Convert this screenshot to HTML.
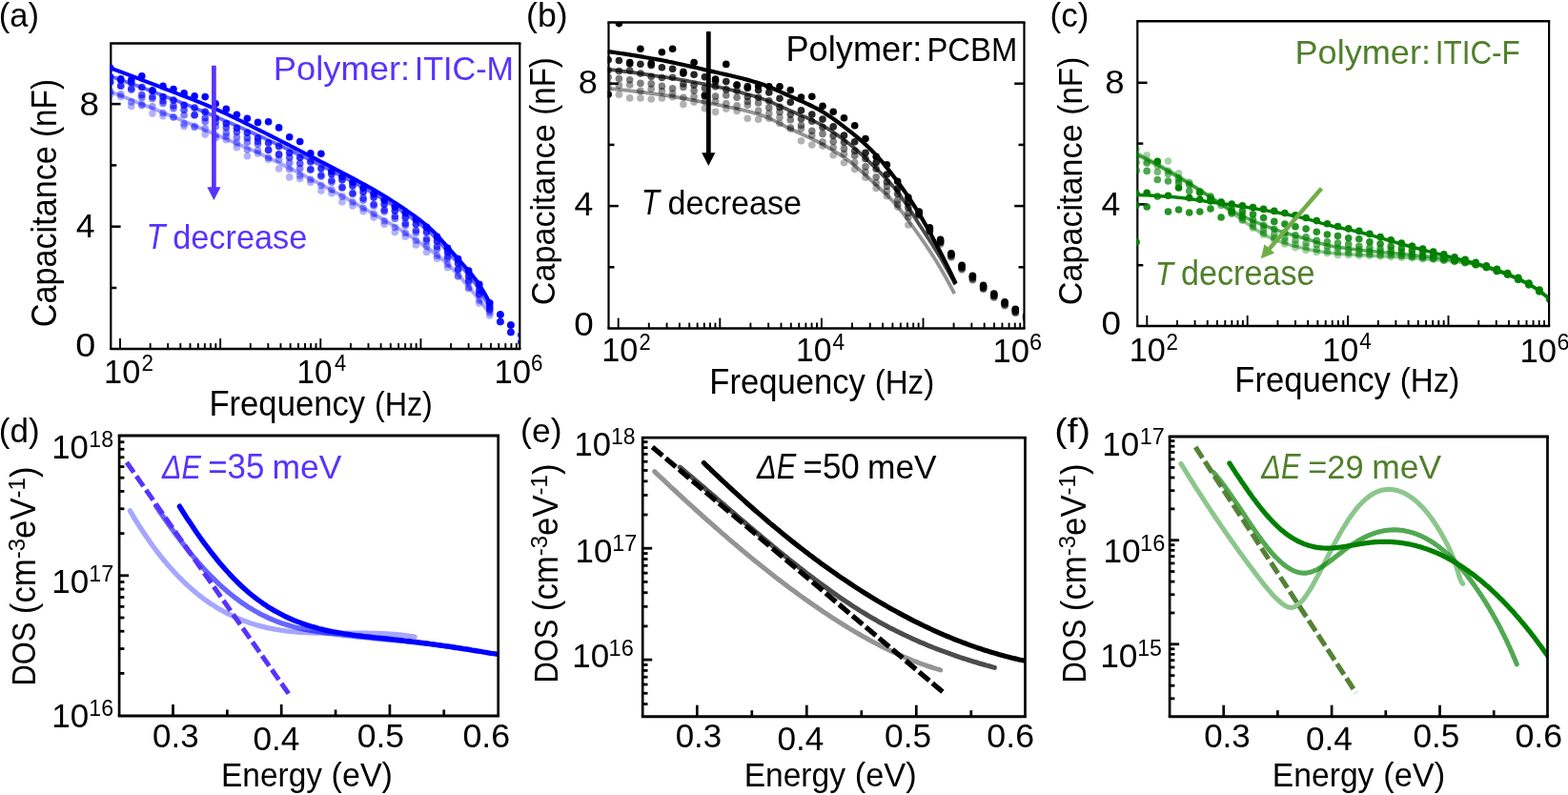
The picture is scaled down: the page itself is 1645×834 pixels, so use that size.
<!DOCTYPE html>
<html><head><meta charset="utf-8"><title>Figure</title>
<style>html,body{margin:0;padding:0;background:#fff;overflow:hidden}svg{display:block}</style></head>
<body><svg width="1645" height="834" viewBox="0 0 1645 834">
<rect width="1645" height="834" fill="#fff"/>
<line x1="126.00" y1="366.10" x2="126.00" y2="355.10" stroke="#000" stroke-width="1.9" />
<line x1="157.65" y1="366.10" x2="157.65" y2="360.10" stroke="#000" stroke-width="1.9" />
<line x1="176.17" y1="366.10" x2="176.17" y2="360.10" stroke="#000" stroke-width="1.9" />
<line x1="189.31" y1="366.10" x2="189.31" y2="360.10" stroke="#000" stroke-width="1.9" />
<line x1="199.50" y1="366.10" x2="199.50" y2="360.10" stroke="#000" stroke-width="1.9" />
<line x1="207.82" y1="366.10" x2="207.82" y2="360.10" stroke="#000" stroke-width="1.9" />
<line x1="214.86" y1="366.10" x2="214.86" y2="360.10" stroke="#000" stroke-width="1.9" />
<line x1="220.96" y1="366.10" x2="220.96" y2="360.10" stroke="#000" stroke-width="1.9" />
<line x1="226.34" y1="366.10" x2="226.34" y2="360.10" stroke="#000" stroke-width="1.9" />
<line x1="231.15" y1="366.10" x2="231.15" y2="355.10" stroke="#000" stroke-width="1.9" />
<line x1="262.80" y1="366.10" x2="262.80" y2="360.10" stroke="#000" stroke-width="1.9" />
<line x1="281.32" y1="366.10" x2="281.32" y2="360.10" stroke="#000" stroke-width="1.9" />
<line x1="294.46" y1="366.10" x2="294.46" y2="360.10" stroke="#000" stroke-width="1.9" />
<line x1="304.65" y1="366.10" x2="304.65" y2="360.10" stroke="#000" stroke-width="1.9" />
<line x1="312.97" y1="366.10" x2="312.97" y2="360.10" stroke="#000" stroke-width="1.9" />
<line x1="320.01" y1="366.10" x2="320.01" y2="360.10" stroke="#000" stroke-width="1.9" />
<line x1="326.11" y1="366.10" x2="326.11" y2="360.10" stroke="#000" stroke-width="1.9" />
<line x1="331.49" y1="366.10" x2="331.49" y2="360.10" stroke="#000" stroke-width="1.9" />
<line x1="336.30" y1="366.10" x2="336.30" y2="355.10" stroke="#000" stroke-width="1.9" />
<line x1="367.95" y1="366.10" x2="367.95" y2="360.10" stroke="#000" stroke-width="1.9" />
<line x1="386.47" y1="366.10" x2="386.47" y2="360.10" stroke="#000" stroke-width="1.9" />
<line x1="399.61" y1="366.10" x2="399.61" y2="360.10" stroke="#000" stroke-width="1.9" />
<line x1="409.80" y1="366.10" x2="409.80" y2="360.10" stroke="#000" stroke-width="1.9" />
<line x1="418.12" y1="366.10" x2="418.12" y2="360.10" stroke="#000" stroke-width="1.9" />
<line x1="425.16" y1="366.10" x2="425.16" y2="360.10" stroke="#000" stroke-width="1.9" />
<line x1="431.26" y1="366.10" x2="431.26" y2="360.10" stroke="#000" stroke-width="1.9" />
<line x1="436.64" y1="366.10" x2="436.64" y2="360.10" stroke="#000" stroke-width="1.9" />
<line x1="441.45" y1="366.10" x2="441.45" y2="355.10" stroke="#000" stroke-width="1.9" />
<line x1="473.10" y1="366.10" x2="473.10" y2="360.10" stroke="#000" stroke-width="1.9" />
<line x1="491.62" y1="366.10" x2="491.62" y2="360.10" stroke="#000" stroke-width="1.9" />
<line x1="504.76" y1="366.10" x2="504.76" y2="360.10" stroke="#000" stroke-width="1.9" />
<line x1="514.95" y1="366.10" x2="514.95" y2="360.10" stroke="#000" stroke-width="1.9" />
<line x1="523.27" y1="366.10" x2="523.27" y2="360.10" stroke="#000" stroke-width="1.9" />
<line x1="530.31" y1="366.10" x2="530.31" y2="360.10" stroke="#000" stroke-width="1.9" />
<line x1="536.41" y1="366.10" x2="536.41" y2="360.10" stroke="#000" stroke-width="1.9" />
<line x1="541.79" y1="366.10" x2="541.79" y2="360.10" stroke="#000" stroke-width="1.9" />
<line x1="116.30" y1="109.10" x2="126.60" y2="109.10" stroke="#000" stroke-width="2.5" />
<line x1="116.30" y1="173.40" x2="122.30" y2="173.40" stroke="#000" stroke-width="2.5" />
<line x1="116.30" y1="237.70" x2="126.60" y2="237.70" stroke="#000" stroke-width="2.5" />
<line x1="116.30" y1="302.00" x2="122.30" y2="302.00" stroke="#000" stroke-width="2.5" />
<line x1="115.20" y1="45.60" x2="546.40" y2="45.60" stroke="#000" stroke-width="2.5" />
<line x1="115.20" y1="366.10" x2="546.40" y2="366.10" stroke="#000" stroke-width="2.5" />
<line x1="116.30" y1="45.60" x2="116.30" y2="366.10" stroke="#000" stroke-width="2.2" />
<line x1="545.30" y1="45.60" x2="545.30" y2="366.10" stroke="#000" stroke-width="2.2" />
<clipPath id="ca"><rect x="115.20" y="45.60" width="429.10" height="319.30"/></clipPath>
<g clip-path="url(#ca)">
<g fill="#0000FF" fill-opacity="0.3"><circle cx="115.7" cy="99.1" r="3.8"/><circle cx="126.7" cy="101.6" r="3.8"/><circle cx="137.8" cy="111.4" r="3.8"/><circle cx="148.8" cy="109.6" r="3.8"/><circle cx="159.9" cy="119.1" r="3.8"/><circle cx="171.0" cy="121.8" r="3.8"/><circle cx="182.0" cy="123.1" r="3.8"/><circle cx="193.1" cy="132.6" r="3.8"/><circle cx="204.1" cy="132.2" r="3.8"/><circle cx="215.2" cy="141.1" r="3.8"/><circle cx="226.2" cy="141.8" r="3.8"/><circle cx="237.3" cy="146.7" r="3.8"/><circle cx="248.4" cy="154.8" r="3.8"/><circle cx="259.4" cy="163.8" r="3.8"/><circle cx="270.5" cy="161.1" r="3.8"/><circle cx="281.6" cy="167.3" r="3.8"/><circle cx="292.6" cy="177.0" r="3.8"/><circle cx="303.7" cy="185.9" r="3.8"/><circle cx="314.7" cy="187.5" r="3.8"/><circle cx="325.8" cy="191.3" r="3.8"/><circle cx="336.9" cy="200.1" r="3.8"/><circle cx="347.9" cy="202.8" r="3.8"/><circle cx="359.0" cy="211.8" r="3.8"/><circle cx="370.0" cy="216.0" r="3.8"/><circle cx="381.1" cy="221.8" r="3.8"/><circle cx="392.1" cy="228.1" r="3.8"/><circle cx="403.2" cy="235.2" r="3.8"/><circle cx="414.3" cy="243.6" r="3.8"/><circle cx="425.3" cy="248.2" r="3.8"/><circle cx="436.4" cy="256.9" r="3.8"/><circle cx="447.5" cy="264.5" r="3.8"/><circle cx="458.5" cy="271.3" r="3.8"/><circle cx="469.6" cy="280.7" r="3.8"/><circle cx="480.6" cy="290.1" r="3.8"/><circle cx="491.7" cy="302.8" r="3.8"/><circle cx="502.8" cy="318.0" r="3.8"/><circle cx="513.8" cy="330.9" r="3.8"/><circle cx="524.9" cy="337.5" r="3.8"/><circle cx="535.9" cy="348.5" r="3.8"/><circle cx="547.0" cy="358.9" r="3.8"/></g>
<g fill="#0000FF" fill-opacity="0.4"><circle cx="115.7" cy="95.7" r="3.8"/><circle cx="126.7" cy="98.9" r="3.8"/><circle cx="137.8" cy="106.9" r="3.8"/><circle cx="148.8" cy="110.6" r="3.8"/><circle cx="159.9" cy="111.8" r="3.8"/><circle cx="171.0" cy="118.6" r="3.8"/><circle cx="182.0" cy="122.8" r="3.8"/><circle cx="193.1" cy="129.9" r="3.8"/><circle cx="204.1" cy="133.5" r="3.8"/><circle cx="215.2" cy="134.9" r="3.8"/><circle cx="226.2" cy="144.6" r="3.8"/><circle cx="237.3" cy="143.0" r="3.8"/><circle cx="248.4" cy="149.9" r="3.8"/><circle cx="259.4" cy="157.1" r="3.8"/><circle cx="270.5" cy="157.8" r="3.8"/><circle cx="281.6" cy="165.4" r="3.8"/><circle cx="292.6" cy="167.5" r="3.8"/><circle cx="303.7" cy="177.5" r="3.8"/><circle cx="314.7" cy="183.9" r="3.8"/><circle cx="325.8" cy="188.2" r="3.8"/><circle cx="336.9" cy="194.5" r="3.8"/><circle cx="347.9" cy="199.1" r="3.8"/><circle cx="359.0" cy="206.1" r="3.8"/><circle cx="370.0" cy="212.0" r="3.8"/><circle cx="381.1" cy="218.3" r="3.8"/><circle cx="392.1" cy="224.3" r="3.8"/><circle cx="403.2" cy="231.7" r="3.8"/><circle cx="414.3" cy="238.6" r="3.8"/><circle cx="425.3" cy="244.4" r="3.8"/><circle cx="436.4" cy="252.2" r="3.8"/><circle cx="447.5" cy="258.4" r="3.8"/><circle cx="458.5" cy="268.1" r="3.8"/><circle cx="469.6" cy="277.3" r="3.8"/><circle cx="480.6" cy="289.5" r="3.8"/><circle cx="491.7" cy="301.8" r="3.8"/><circle cx="502.8" cy="315.1" r="3.8"/><circle cx="513.8" cy="327.9" r="3.8"/><circle cx="524.9" cy="337.5" r="3.8"/><circle cx="535.9" cy="348.5" r="3.8"/><circle cx="547.0" cy="358.9" r="3.8"/></g>
<g fill="#0000FF" fill-opacity="0.5"><circle cx="115.7" cy="86.3" r="3.8"/><circle cx="126.7" cy="90.3" r="3.8"/><circle cx="137.8" cy="94.3" r="3.8"/><circle cx="148.8" cy="102.5" r="3.8"/><circle cx="159.9" cy="103.4" r="3.8"/><circle cx="171.0" cy="108.5" r="3.8"/><circle cx="182.0" cy="113.7" r="3.8"/><circle cx="193.1" cy="120.8" r="3.8"/><circle cx="204.1" cy="121.0" r="3.8"/><circle cx="215.2" cy="127.6" r="3.8"/><circle cx="226.2" cy="132.8" r="3.8"/><circle cx="237.3" cy="139.4" r="3.8"/><circle cx="248.4" cy="144.0" r="3.8"/><circle cx="259.4" cy="149.2" r="3.8"/><circle cx="270.5" cy="151.2" r="3.8"/><circle cx="281.6" cy="157.3" r="3.8"/><circle cx="292.6" cy="162.4" r="3.8"/><circle cx="303.7" cy="170.8" r="3.8"/><circle cx="314.7" cy="176.8" r="3.8"/><circle cx="325.8" cy="178.2" r="3.8"/><circle cx="336.9" cy="185.3" r="3.8"/><circle cx="347.9" cy="191.3" r="3.8"/><circle cx="359.0" cy="197.3" r="3.8"/><circle cx="370.0" cy="203.8" r="3.8"/><circle cx="381.1" cy="210.1" r="3.8"/><circle cx="392.1" cy="215.9" r="3.8"/><circle cx="403.2" cy="221.9" r="3.8"/><circle cx="414.3" cy="229.4" r="3.8"/><circle cx="425.3" cy="236.4" r="3.8"/><circle cx="436.4" cy="244.2" r="3.8"/><circle cx="447.5" cy="252.9" r="3.8"/><circle cx="458.5" cy="261.3" r="3.8"/><circle cx="469.6" cy="271.3" r="3.8"/><circle cx="480.6" cy="283.2" r="3.8"/><circle cx="491.7" cy="295.9" r="3.8"/><circle cx="502.8" cy="309.3" r="3.8"/><circle cx="513.8" cy="325.5" r="3.8"/><circle cx="524.9" cy="337.5" r="3.8"/><circle cx="535.9" cy="348.5" r="3.8"/><circle cx="547.0" cy="358.9" r="3.8"/></g>
<g fill="#0000FF" fill-opacity="0.65"><circle cx="115.7" cy="85.7" r="3.8"/><circle cx="126.7" cy="90.0" r="3.8"/><circle cx="137.8" cy="93.0" r="3.8"/><circle cx="148.8" cy="99.6" r="3.8"/><circle cx="159.9" cy="101.5" r="3.8"/><circle cx="171.0" cy="105.9" r="3.8"/><circle cx="182.0" cy="111.0" r="3.8"/><circle cx="193.1" cy="115.2" r="3.8"/><circle cx="204.1" cy="120.5" r="3.8"/><circle cx="215.2" cy="123.8" r="3.8"/><circle cx="226.2" cy="128.3" r="3.8"/><circle cx="237.3" cy="133.7" r="3.8"/><circle cx="248.4" cy="138.5" r="3.8"/><circle cx="259.4" cy="144.7" r="3.8"/><circle cx="270.5" cy="148.4" r="3.8"/><circle cx="281.6" cy="157.4" r="3.8"/><circle cx="292.6" cy="161.7" r="3.8"/><circle cx="303.7" cy="165.3" r="3.8"/><circle cx="314.7" cy="171.4" r="3.8"/><circle cx="325.8" cy="177.5" r="3.8"/><circle cx="336.9" cy="183.8" r="3.8"/><circle cx="347.9" cy="189.3" r="3.8"/><circle cx="359.0" cy="196.3" r="3.8"/><circle cx="370.0" cy="202.5" r="3.8"/><circle cx="381.1" cy="207.9" r="3.8"/><circle cx="392.1" cy="214.3" r="3.8"/><circle cx="403.2" cy="220.2" r="3.8"/><circle cx="414.3" cy="227.0" r="3.8"/><circle cx="425.3" cy="234.4" r="3.8"/><circle cx="436.4" cy="241.8" r="3.8"/><circle cx="447.5" cy="250.7" r="3.8"/><circle cx="458.5" cy="258.8" r="3.8"/><circle cx="469.6" cy="269.2" r="3.8"/><circle cx="480.6" cy="282.3" r="3.8"/><circle cx="491.7" cy="294.3" r="3.8"/><circle cx="502.8" cy="308.2" r="3.8"/><circle cx="513.8" cy="324.1" r="3.8"/><circle cx="524.9" cy="337.5" r="3.8"/><circle cx="535.9" cy="348.5" r="3.8"/><circle cx="547.0" cy="358.9" r="3.8"/></g>
<g fill="#0000FF" fill-opacity="0.8"><circle cx="115.7" cy="80.5" r="3.8"/><circle cx="126.7" cy="84.1" r="3.8"/><circle cx="137.8" cy="86.8" r="3.8"/><circle cx="148.8" cy="91.5" r="3.8"/><circle cx="159.9" cy="95.1" r="3.8"/><circle cx="171.0" cy="101.6" r="3.8"/><circle cx="182.0" cy="105.1" r="3.8"/><circle cx="193.1" cy="110.3" r="3.8"/><circle cx="204.1" cy="113.1" r="3.8"/><circle cx="215.2" cy="117.2" r="3.8"/><circle cx="226.2" cy="124.0" r="3.8"/><circle cx="237.3" cy="129.6" r="3.8"/><circle cx="248.4" cy="134.2" r="3.8"/><circle cx="259.4" cy="139.3" r="3.8"/><circle cx="270.5" cy="144.7" r="3.8"/><circle cx="281.6" cy="149.9" r="3.8"/><circle cx="292.6" cy="153.6" r="3.8"/><circle cx="303.7" cy="160.2" r="3.8"/><circle cx="314.7" cy="165.3" r="3.8"/><circle cx="325.8" cy="169.8" r="3.8"/><circle cx="336.9" cy="176.7" r="3.8"/><circle cx="347.9" cy="182.8" r="3.8"/><circle cx="359.0" cy="188.7" r="3.8"/><circle cx="370.0" cy="195.1" r="3.8"/><circle cx="381.1" cy="201.4" r="3.8"/><circle cx="392.1" cy="207.1" r="3.8"/><circle cx="403.2" cy="214.2" r="3.8"/><circle cx="414.3" cy="221.1" r="3.8"/><circle cx="425.3" cy="228.3" r="3.8"/><circle cx="436.4" cy="235.3" r="3.8"/><circle cx="447.5" cy="243.4" r="3.8"/><circle cx="458.5" cy="253.1" r="3.8"/><circle cx="469.6" cy="264.5" r="3.8"/><circle cx="480.6" cy="276.6" r="3.8"/><circle cx="491.7" cy="289.7" r="3.8"/><circle cx="502.8" cy="304.4" r="3.8"/><circle cx="513.8" cy="321.5" r="3.8"/><circle cx="524.9" cy="330.0" r="3.8"/><circle cx="535.9" cy="341.0" r="3.8"/><circle cx="547.0" cy="351.4" r="3.8"/></g>
<path d="M115.2 95.9 L118.5 97.2 L121.9 98.5 L125.2 99.8 L128.5 101.1 L131.9 102.4 L135.2 103.7 L138.5 105.0 L141.8 106.4 L145.2 107.7 L148.5 109.0 L151.8 110.4 L155.2 111.7 L158.5 113.0 L161.8 114.4 L165.2 115.7 L168.5 117.1 L171.8 118.5 L175.1 119.8 L178.5 121.2 L181.8 122.6 L185.1 123.9 L188.5 125.3 L191.8 126.7 L195.1 128.1 L198.5 129.5 L201.8 130.8 L205.1 132.2 L208.4 133.6 L211.8 135.0 L215.1 136.4 L218.4 137.8 L221.8 139.2 L225.1 140.6 L228.4 142.0 L231.8 143.5 L235.1 144.9 L238.4 146.3 L241.7 147.7 L245.1 149.1 L248.4 150.5 L251.7 151.9 L255.1 153.4 L258.4 154.8 L261.7 156.3 L265.1 157.8 L268.4 159.3 L271.7 160.8 L275.1 162.4 L278.4 164.0 L281.7 165.5 L285.0 167.1 L288.4 168.8 L291.7 170.4 L295.0 172.0 L298.4 173.7 L301.7 175.3 L305.0 177.0 L308.4 178.7 L311.7 180.4 L315.0 182.1 L318.3 183.8 L321.7 185.6 L325.0 187.3 L328.3 189.0 L331.7 190.8 L335.0 192.6 L338.3 194.4 L341.7 196.2 L345.0 198.0 L348.3 199.8 L351.6 201.6 L355.0 203.4 L358.3 205.3 L361.6 207.1 L365.0 209.0 L368.3 210.8 L371.6 212.7 L375.0 214.6 L378.3 216.5 L381.6 218.4 L385.0 220.3 L388.3 222.2 L391.6 224.1 L394.9 226.1 L398.3 228.0 L401.6 229.9 L404.9 231.9 L408.3 233.9 L411.6 235.9 L414.9 237.9 L418.3 240.0 L421.6 242.0 L424.9 244.2 L428.2 246.3 L431.6 248.5 L434.9 250.8 L438.2 253.0 L441.6 255.3 L444.9 257.6 L448.2 260.0 L451.6 262.4 L454.9 264.8 L458.2 267.4 L461.5 270.0 L464.9 272.8 L468.2 275.7 L471.5 278.8 L474.9 282.1 L478.2 285.7 L481.5 289.3 L484.9 293.1 L488.2 296.9 L491.5 300.8 L494.8 304.7 L498.2 308.8 L501.5 312.9 L504.8 317.2 L508.2 321.6 L511.5 326.0" fill="none" stroke="#0000FF" stroke-width="3.8" stroke-opacity="0.35" stroke-linejoin="round" />
<path d="M115.2 79.8 L118.5 81.0 L121.9 82.1 L125.2 83.3 L128.6 84.5 L131.9 85.7 L135.3 86.9 L138.6 88.1 L141.9 89.3 L145.3 90.5 L148.6 91.7 L152.0 93.0 L155.3 94.2 L158.7 95.5 L162.0 96.8 L165.3 98.0 L168.7 99.3 L172.0 100.6 L175.4 101.9 L178.7 103.2 L182.1 104.5 L185.4 105.8 L188.7 107.1 L192.1 108.5 L195.4 109.8 L198.8 111.1 L202.1 112.5 L205.5 113.9 L208.8 115.2 L212.1 116.6 L215.5 118.0 L218.8 119.3 L222.2 120.7 L225.5 122.1 L228.9 123.5 L232.2 124.9 L235.5 126.4 L238.9 127.8 L242.2 129.2 L245.6 130.7 L248.9 132.2 L252.3 133.7 L255.6 135.2 L258.9 136.7 L262.3 138.2 L265.6 139.7 L269.0 141.2 L272.3 142.7 L275.7 144.3 L279.0 145.8 L282.3 147.4 L285.7 148.9 L289.0 150.5 L292.4 152.1 L295.7 153.6 L299.1 155.2 L302.4 156.8 L305.7 158.4 L309.1 160.0 L312.4 161.6 L315.8 163.2 L319.1 164.8 L322.5 166.4 L325.8 168.0 L329.1 169.7 L332.5 171.3 L335.8 173.0 L339.2 174.7 L342.5 176.4 L345.9 178.1 L349.2 179.8 L352.5 181.5 L355.9 183.3 L359.2 185.0 L362.6 186.8 L365.9 188.5 L369.3 190.3 L372.6 192.1 L375.9 193.9 L379.3 195.7 L382.6 197.6 L386.0 199.5 L389.3 201.4 L392.7 203.4 L396.0 205.3 L399.3 207.3 L402.7 209.3 L406.0 211.4 L409.4 213.5 L412.7 215.6 L416.1 217.7 L419.4 219.9 L422.7 222.2 L426.1 224.5 L429.4 226.8 L432.8 229.2 L436.1 231.6 L439.5 234.1 L442.8 236.7 L446.1 239.4 L449.5 242.3 L452.8 245.3 L456.2 248.6 L459.5 252.1 L462.9 255.8 L466.2 259.7 L469.5 263.5 L472.9 267.3 L476.2 271.1 L479.6 274.7 L482.9 278.4 L486.3 282.2 L489.6 286.0 L492.9 290.1 L496.3 294.3 L499.6 298.8 L503.0 303.7 L506.3 309.3 L509.7 315.5 L513.0 322.0" fill="none" stroke="#0000FF" stroke-width="3.8" stroke-opacity="0.6" stroke-linejoin="round" />
<g fill="#0000FF"><circle cx="115.7" cy="71.3" r="3.8"/><circle cx="126.7" cy="82.9" r="3.8"/><circle cx="137.8" cy="83.8" r="3.8"/><circle cx="148.8" cy="79.8" r="3.8"/><circle cx="159.9" cy="95.1" r="3.8"/><circle cx="171.0" cy="90.4" r="3.8"/><circle cx="182.0" cy="93.6" r="3.8"/><circle cx="193.1" cy="97.9" r="3.8"/><circle cx="204.1" cy="100.8" r="3.8"/><circle cx="215.2" cy="101.6" r="3.8"/><circle cx="226.2" cy="108.8" r="3.8"/><circle cx="237.3" cy="114.4" r="3.8"/><circle cx="248.4" cy="120.2" r="3.8"/><circle cx="259.4" cy="124.2" r="3.8"/><circle cx="270.5" cy="128.4" r="3.8"/><circle cx="281.6" cy="127.7" r="3.8"/><circle cx="292.6" cy="133.9" r="3.8"/><circle cx="303.7" cy="143.7" r="3.8"/><circle cx="314.7" cy="148.5" r="3.8"/><circle cx="325.8" cy="160.9" r="3.8"/><circle cx="336.9" cy="161.3" r="3.8"/><circle cx="347.9" cy="179.8" r="3.8"/><circle cx="359.0" cy="185.6" r="3.8"/><circle cx="370.0" cy="191.4" r="3.8"/><circle cx="381.1" cy="197.3" r="3.8"/><circle cx="392.1" cy="203.6" r="3.8"/><circle cx="403.2" cy="210.1" r="3.8"/><circle cx="414.3" cy="217.1" r="3.8"/><circle cx="425.3" cy="223.5" r="3.8"/><circle cx="436.4" cy="230.3" r="3.8"/><circle cx="447.5" cy="238.3" r="3.8"/><circle cx="458.5" cy="248.3" r="3.8"/><circle cx="469.6" cy="260.2" r="3.8"/><circle cx="480.6" cy="271.6" r="3.8"/><circle cx="491.7" cy="284.1" r="3.8"/><circle cx="502.8" cy="298.4" r="3.8"/><circle cx="513.8" cy="317.7" r="3.8"/><circle cx="524.9" cy="330.0" r="3.8"/><circle cx="535.9" cy="341.0" r="3.8"/><circle cx="547.0" cy="351.4" r="3.8"/></g>
<path d="M115.2 71.1 L118.6 72.4 L121.9 73.6 L125.3 74.9 L128.6 76.1 L132.0 77.4 L135.3 78.7 L138.7 79.9 L142.0 81.2 L145.4 82.5 L148.7 83.8 L152.1 85.1 L155.4 86.4 L158.8 87.6 L162.1 88.9 L165.5 90.2 L168.8 91.5 L172.2 92.8 L175.5 94.1 L178.9 95.4 L182.2 96.7 L185.6 98.0 L188.9 99.3 L192.3 100.6 L195.6 101.8 L199.0 103.1 L202.3 104.5 L205.7 105.8 L209.0 107.1 L212.4 108.5 L215.7 109.9 L219.1 111.3 L222.4 112.7 L225.8 114.1 L229.1 115.6 L232.5 117.2 L235.8 118.7 L239.2 120.3 L242.5 121.9 L245.9 123.5 L249.3 125.2 L252.6 126.8 L256.0 128.5 L259.3 130.1 L262.7 131.8 L266.0 133.5 L269.4 135.2 L272.7 136.9 L276.1 138.5 L279.4 140.2 L282.8 141.9 L286.1 143.6 L289.5 145.3 L292.8 147.0 L296.2 148.7 L299.5 150.4 L302.9 152.1 L306.2 153.9 L309.6 155.6 L312.9 157.3 L316.3 159.0 L319.6 160.8 L323.0 162.5 L326.3 164.2 L329.7 165.9 L333.0 167.6 L336.4 169.4 L339.7 171.1 L343.1 172.8 L346.4 174.6 L349.8 176.3 L353.1 178.1 L356.5 179.8 L359.8 181.6 L363.2 183.3 L366.5 185.0 L369.9 186.8 L373.2 188.6 L376.6 190.4 L379.9 192.2 L383.3 194.0 L386.7 195.9 L390.0 197.8 L393.4 199.8 L396.7 201.7 L400.1 203.7 L403.4 205.8 L406.8 207.8 L410.1 209.9 L413.5 212.1 L416.8 214.2 L420.2 216.5 L423.5 218.7 L426.9 221.0 L430.2 223.4 L433.6 225.7 L436.9 228.2 L440.3 230.6 L443.6 233.2 L447.0 236.0 L450.3 238.8 L453.7 241.9 L457.0 245.2 L460.4 248.8 L463.7 252.6 L467.1 256.4 L470.4 260.2 L473.8 263.9 L477.1 267.6 L480.5 271.4 L483.8 275.2 L487.2 279.0 L490.5 282.8 L493.9 286.7 L497.2 290.9 L500.6 295.3 L503.9 300.2 L507.3 305.7 L510.6 311.7 L514.0 318.0" fill="none" stroke="#0000FF" stroke-width="4.0" stroke-linejoin="round" />
</g>
<line x1="224.40" y1="68.70" x2="224.40" y2="197.20" stroke="#5733FD" stroke-width="4.7" />
<polygon points="224.4,210.0 217.3,196.2 231.5,196.2" fill="#5733FD"/>
<text transform="translate(-1.16,27.80) scale(0.9623,1.0000)" font-size="35.90" fill="#000" font-family="Liberation Sans, sans-serif"><tspan>(a)</tspan></text>
<text transform="translate(83.54,121.00) scale(1.0427,1.0000)" font-size="35.30" fill="#000" font-family="Liberation Sans, sans-serif"><tspan>8</tspan></text>
<text transform="translate(79.70,249.20) scale(1.0097,1.0000)" font-size="35.30" fill="#000" font-family="Liberation Sans, sans-serif"><tspan>4</tspan></text>
<text transform="translate(79.19,373.80) scale(1.0679,1.0000)" font-size="35.30" fill="#000" font-family="Liberation Sans, sans-serif"><tspan>0</tspan></text>
<text transform="translate(109.12,401.70) scale(0.9741,1.0000)" font-size="35.30" fill="#000" font-family="Liberation Sans, sans-serif"><tspan>10</tspan></text>
<text transform="translate(148.38,389.20) scale(0.9663,1.0000)" font-size="23.20" fill="#000" font-family="Liberation Sans, sans-serif"><tspan>2</tspan></text>
<text transform="translate(311.50,401.70) scale(0.9429,1.0000)" font-size="35.30" fill="#000" font-family="Liberation Sans, sans-serif"><tspan>10</tspan></text>
<text transform="translate(351.01,388.90) scale(0.9474,1.0000)" font-size="23.20" fill="#000" font-family="Liberation Sans, sans-serif"><tspan>4</tspan></text>
<text transform="translate(518.40,401.70) scale(0.9826,1.0000)" font-size="35.30" fill="#000" font-family="Liberation Sans, sans-serif"><tspan>10</tspan></text>
<text transform="translate(556.88,389.10) scale(0.9692,1.0000)" font-size="23.20" fill="#000" font-family="Liberation Sans, sans-serif"><tspan>6</tspan></text>
<text transform="translate(219.44,435.90) scale(0.9620,1.0000)" font-size="36.00" fill="#000" font-family="Liberation Sans, sans-serif"><tspan>Frequency</tspan></text>
<text transform="translate(392.88,435.90) scale(0.8971,1.0000)" font-size="36.00" fill="#000" font-family="Liberation Sans, sans-serif"><tspan>(Hz)</tspan></text>
<text transform="translate(59.00,343.31) rotate(-90) scale(0.9505,1.0000)" font-size="36.00" fill="#000" font-family="Liberation Sans, sans-serif"><tspan>Capacitance</tspan></text>
<text transform="translate(59.00,144.08) rotate(-90) scale(0.9259,1.0000)" font-size="36.00" fill="#000" font-family="Liberation Sans, sans-serif"><tspan>(nF)</tspan></text>
<text transform="translate(286.80,84.10) scale(1.0095,1.0000)" font-size="36.00" fill="#5733FD" font-family="Liberation Sans, sans-serif"><tspan>Polymer:</tspan></text>
<text transform="translate(434.74,84.10) scale(0.9491,1.0000)" font-size="36.00" fill="#5733FD" font-family="Liberation Sans, sans-serif"><tspan>ITIC-M</tspan></text>
<text transform="translate(153.47,261.40) scale(0.9052,1.0000)" font-size="36.00" fill="#5733FD" font-family="Liberation Sans, sans-serif"><tspan font-style="italic">T</tspan></text>
<text transform="translate(181.14,261.40) scale(0.9539,1.0000)" font-size="36.00" fill="#5733FD" font-family="Liberation Sans, sans-serif"><tspan>decrease</tspan></text>
<line x1="648.70" y1="344.60" x2="648.70" y2="333.60" stroke="#000" stroke-width="1.9" />
<line x1="680.79" y1="344.60" x2="680.79" y2="338.60" stroke="#000" stroke-width="1.9" />
<line x1="699.56" y1="344.60" x2="699.56" y2="338.60" stroke="#000" stroke-width="1.9" />
<line x1="712.88" y1="344.60" x2="712.88" y2="338.60" stroke="#000" stroke-width="1.9" />
<line x1="723.21" y1="344.60" x2="723.21" y2="338.60" stroke="#000" stroke-width="1.9" />
<line x1="731.65" y1="344.60" x2="731.65" y2="338.60" stroke="#000" stroke-width="1.9" />
<line x1="738.79" y1="344.60" x2="738.79" y2="338.60" stroke="#000" stroke-width="1.9" />
<line x1="744.97" y1="344.60" x2="744.97" y2="338.60" stroke="#000" stroke-width="1.9" />
<line x1="750.42" y1="344.60" x2="750.42" y2="338.60" stroke="#000" stroke-width="1.9" />
<line x1="755.30" y1="344.60" x2="755.30" y2="333.60" stroke="#000" stroke-width="1.9" />
<line x1="787.39" y1="344.60" x2="787.39" y2="338.60" stroke="#000" stroke-width="1.9" />
<line x1="806.16" y1="344.60" x2="806.16" y2="338.60" stroke="#000" stroke-width="1.9" />
<line x1="819.48" y1="344.60" x2="819.48" y2="338.60" stroke="#000" stroke-width="1.9" />
<line x1="829.81" y1="344.60" x2="829.81" y2="338.60" stroke="#000" stroke-width="1.9" />
<line x1="838.25" y1="344.60" x2="838.25" y2="338.60" stroke="#000" stroke-width="1.9" />
<line x1="845.39" y1="344.60" x2="845.39" y2="338.60" stroke="#000" stroke-width="1.9" />
<line x1="851.57" y1="344.60" x2="851.57" y2="338.60" stroke="#000" stroke-width="1.9" />
<line x1="857.02" y1="344.60" x2="857.02" y2="338.60" stroke="#000" stroke-width="1.9" />
<line x1="861.90" y1="344.60" x2="861.90" y2="333.60" stroke="#000" stroke-width="1.9" />
<line x1="893.99" y1="344.60" x2="893.99" y2="338.60" stroke="#000" stroke-width="1.9" />
<line x1="912.76" y1="344.60" x2="912.76" y2="338.60" stroke="#000" stroke-width="1.9" />
<line x1="926.08" y1="344.60" x2="926.08" y2="338.60" stroke="#000" stroke-width="1.9" />
<line x1="936.41" y1="344.60" x2="936.41" y2="338.60" stroke="#000" stroke-width="1.9" />
<line x1="944.85" y1="344.60" x2="944.85" y2="338.60" stroke="#000" stroke-width="1.9" />
<line x1="951.99" y1="344.60" x2="951.99" y2="338.60" stroke="#000" stroke-width="1.9" />
<line x1="958.17" y1="344.60" x2="958.17" y2="338.60" stroke="#000" stroke-width="1.9" />
<line x1="963.62" y1="344.60" x2="963.62" y2="338.60" stroke="#000" stroke-width="1.9" />
<line x1="968.50" y1="344.60" x2="968.50" y2="333.60" stroke="#000" stroke-width="1.9" />
<line x1="1000.59" y1="344.60" x2="1000.59" y2="338.60" stroke="#000" stroke-width="1.9" />
<line x1="1019.36" y1="344.60" x2="1019.36" y2="338.60" stroke="#000" stroke-width="1.9" />
<line x1="1032.68" y1="344.60" x2="1032.68" y2="338.60" stroke="#000" stroke-width="1.9" />
<line x1="1043.01" y1="344.60" x2="1043.01" y2="338.60" stroke="#000" stroke-width="1.9" />
<line x1="1051.45" y1="344.60" x2="1051.45" y2="338.60" stroke="#000" stroke-width="1.9" />
<line x1="1058.59" y1="344.60" x2="1058.59" y2="338.60" stroke="#000" stroke-width="1.9" />
<line x1="1064.77" y1="344.60" x2="1064.77" y2="338.60" stroke="#000" stroke-width="1.9" />
<line x1="1070.22" y1="344.60" x2="1070.22" y2="338.60" stroke="#000" stroke-width="1.9" />
<line x1="638.50" y1="87.70" x2="648.80" y2="87.70" stroke="#000" stroke-width="2.5" />
<line x1="1074.50" y1="87.70" x2="1064.20" y2="87.70" stroke="#000" stroke-width="2.5" />
<line x1="638.50" y1="151.90" x2="644.50" y2="151.90" stroke="#000" stroke-width="2.5" />
<line x1="1074.50" y1="151.90" x2="1068.50" y2="151.90" stroke="#000" stroke-width="2.5" />
<line x1="638.50" y1="216.10" x2="648.80" y2="216.10" stroke="#000" stroke-width="2.5" />
<line x1="1074.50" y1="216.10" x2="1064.20" y2="216.10" stroke="#000" stroke-width="2.5" />
<line x1="638.50" y1="280.30" x2="644.50" y2="280.30" stroke="#000" stroke-width="2.5" />
<line x1="1074.50" y1="280.30" x2="1068.50" y2="280.30" stroke="#000" stroke-width="2.5" />
<line x1="637.40" y1="23.60" x2="1075.60" y2="23.60" stroke="#000" stroke-width="2.5" />
<line x1="637.40" y1="344.60" x2="1075.60" y2="344.60" stroke="#000" stroke-width="2.5" />
<line x1="638.50" y1="23.60" x2="638.50" y2="344.60" stroke="#000" stroke-width="2.2" />
<line x1="1074.50" y1="23.60" x2="1074.50" y2="344.60" stroke="#000" stroke-width="2.2" />
<clipPath id="cb"><rect x="637.40" y="23.60" width="436.10" height="319.80"/></clipPath>
<g clip-path="url(#cb)">
<g fill="#000" fill-opacity="0.3"><circle cx="638.2" cy="92.8" r="3.8"/><circle cx="649.4" cy="99.3" r="3.8"/><circle cx="660.7" cy="102.9" r="3.8"/><circle cx="671.9" cy="102.9" r="3.8"/><circle cx="683.2" cy="104.0" r="3.8"/><circle cx="694.4" cy="102.9" r="3.8"/><circle cx="705.6" cy="101.7" r="3.8"/><circle cx="716.9" cy="109.5" r="3.8"/><circle cx="728.1" cy="107.1" r="3.8"/><circle cx="739.4" cy="113.7" r="3.8"/><circle cx="750.6" cy="117.4" r="3.8"/><circle cx="761.8" cy="114.1" r="3.8"/><circle cx="773.1" cy="116.4" r="3.8"/><circle cx="784.3" cy="124.2" r="3.8"/><circle cx="795.6" cy="125.2" r="3.8"/><circle cx="806.8" cy="124.2" r="3.8"/><circle cx="818.0" cy="129.4" r="3.8"/><circle cx="829.3" cy="135.3" r="3.8"/><circle cx="840.5" cy="147.7" r="3.8"/><circle cx="851.8" cy="152.0" r="3.8"/><circle cx="863.0" cy="153.1" r="3.8"/><circle cx="874.2" cy="162.8" r="3.8"/><circle cx="885.5" cy="170.7" r="3.8"/><circle cx="896.7" cy="177.6" r="3.8"/><circle cx="908.0" cy="186.2" r="3.8"/><circle cx="919.2" cy="197.4" r="3.8"/><circle cx="930.4" cy="205.8" r="3.8"/><circle cx="941.7" cy="217.1" r="3.8"/><circle cx="952.9" cy="236.0" r="3.8"/><circle cx="964.2" cy="226.5" r="3.8"/><circle cx="975.4" cy="243.3" r="3.8"/><circle cx="986.6" cy="256.2" r="3.8"/><circle cx="997.9" cy="270.1" r="3.8"/><circle cx="1009.1" cy="283.1" r="3.8"/><circle cx="1020.4" cy="293.9" r="3.8"/><circle cx="1031.6" cy="303.5" r="3.8"/><circle cx="1042.8" cy="312.2" r="3.8"/><circle cx="1054.1" cy="320.9" r="3.8"/><circle cx="1065.3" cy="328.4" r="3.8"/><circle cx="1076.6" cy="335.5" r="3.8"/></g>
<g fill="#000" fill-opacity="0.4"><circle cx="638.2" cy="87.5" r="3.8"/><circle cx="649.4" cy="89.6" r="3.8"/><circle cx="660.7" cy="89.0" r="3.8"/><circle cx="671.9" cy="95.4" r="3.8"/><circle cx="683.2" cy="93.3" r="3.8"/><circle cx="694.4" cy="95.6" r="3.8"/><circle cx="705.6" cy="98.2" r="3.8"/><circle cx="716.9" cy="102.2" r="3.8"/><circle cx="728.1" cy="101.2" r="3.8"/><circle cx="739.4" cy="106.6" r="3.8"/><circle cx="750.6" cy="106.2" r="3.8"/><circle cx="761.8" cy="108.6" r="3.8"/><circle cx="773.1" cy="110.9" r="3.8"/><circle cx="784.3" cy="110.3" r="3.8"/><circle cx="795.6" cy="116.1" r="3.8"/><circle cx="806.8" cy="118.7" r="3.8"/><circle cx="818.0" cy="123.0" r="3.8"/><circle cx="829.3" cy="133.8" r="3.8"/><circle cx="840.5" cy="134.9" r="3.8"/><circle cx="851.8" cy="142.0" r="3.8"/><circle cx="863.0" cy="148.7" r="3.8"/><circle cx="874.2" cy="154.8" r="3.8"/><circle cx="885.5" cy="161.4" r="3.8"/><circle cx="896.7" cy="170.5" r="3.8"/><circle cx="908.0" cy="180.6" r="3.8"/><circle cx="919.2" cy="191.8" r="3.8"/><circle cx="930.4" cy="200.5" r="3.8"/><circle cx="941.7" cy="214.4" r="3.8"/><circle cx="952.9" cy="228.0" r="3.8"/><circle cx="964.2" cy="225.4" r="3.8"/><circle cx="975.4" cy="242.8" r="3.8"/><circle cx="986.6" cy="255.0" r="3.8"/><circle cx="997.9" cy="269.5" r="3.8"/><circle cx="1009.1" cy="282.2" r="3.8"/><circle cx="1020.4" cy="293.2" r="3.8"/><circle cx="1031.6" cy="302.9" r="3.8"/><circle cx="1042.8" cy="311.7" r="3.8"/><circle cx="1054.1" cy="320.3" r="3.8"/><circle cx="1065.3" cy="327.9" r="3.8"/><circle cx="1076.6" cy="334.8" r="3.8"/></g>
<g fill="#000" fill-opacity="0.5"><circle cx="638.2" cy="81.0" r="3.8"/><circle cx="649.4" cy="82.6" r="3.8"/><circle cx="660.7" cy="83.7" r="3.8"/><circle cx="671.9" cy="87.4" r="3.8"/><circle cx="683.2" cy="87.9" r="3.8"/><circle cx="694.4" cy="90.4" r="3.8"/><circle cx="705.6" cy="92.7" r="3.8"/><circle cx="716.9" cy="91.4" r="3.8"/><circle cx="728.1" cy="95.1" r="3.8"/><circle cx="739.4" cy="99.2" r="3.8"/><circle cx="750.6" cy="101.0" r="3.8"/><circle cx="761.8" cy="99.9" r="3.8"/><circle cx="773.1" cy="102.3" r="3.8"/><circle cx="784.3" cy="106.5" r="3.8"/><circle cx="795.6" cy="107.9" r="3.8"/><circle cx="806.8" cy="112.9" r="3.8"/><circle cx="818.0" cy="117.4" r="3.8"/><circle cx="829.3" cy="125.8" r="3.8"/><circle cx="840.5" cy="131.5" r="3.8"/><circle cx="851.8" cy="137.2" r="3.8"/><circle cx="863.0" cy="140.4" r="3.8"/><circle cx="874.2" cy="148.5" r="3.8"/><circle cx="885.5" cy="155.9" r="3.8"/><circle cx="896.7" cy="163.2" r="3.8"/><circle cx="908.0" cy="174.9" r="3.8"/><circle cx="919.2" cy="185.8" r="3.8"/><circle cx="930.4" cy="195.4" r="3.8"/><circle cx="941.7" cy="210.0" r="3.8"/><circle cx="952.9" cy="223.6" r="3.8"/><circle cx="964.2" cy="224.8" r="3.8"/><circle cx="975.4" cy="242.2" r="3.8"/><circle cx="986.6" cy="254.5" r="3.8"/><circle cx="997.9" cy="268.3" r="3.8"/><circle cx="1009.1" cy="281.0" r="3.8"/><circle cx="1020.4" cy="292.0" r="3.8"/><circle cx="1031.6" cy="302.0" r="3.8"/><circle cx="1042.8" cy="310.5" r="3.8"/><circle cx="1054.1" cy="319.3" r="3.8"/><circle cx="1065.3" cy="327.3" r="3.8"/><circle cx="1076.6" cy="333.3" r="3.8"/></g>
<g fill="#000" fill-opacity="0.65"><circle cx="638.2" cy="73.7" r="3.8"/><circle cx="649.4" cy="74.5" r="3.8"/><circle cx="660.7" cy="74.0" r="3.8"/><circle cx="671.9" cy="77.1" r="3.8"/><circle cx="683.2" cy="80.2" r="3.8"/><circle cx="694.4" cy="81.5" r="3.8"/><circle cx="705.6" cy="81.3" r="3.8"/><circle cx="716.9" cy="87.9" r="3.8"/><circle cx="728.1" cy="89.2" r="3.8"/><circle cx="739.4" cy="92.5" r="3.8"/><circle cx="750.6" cy="90.7" r="3.8"/><circle cx="761.8" cy="93.9" r="3.8"/><circle cx="773.1" cy="95.3" r="3.8"/><circle cx="784.3" cy="101.6" r="3.8"/><circle cx="795.6" cy="102.3" r="3.8"/><circle cx="806.8" cy="105.8" r="3.8"/><circle cx="818.0" cy="112.4" r="3.8"/><circle cx="829.3" cy="120.1" r="3.8"/><circle cx="840.5" cy="124.8" r="3.8"/><circle cx="851.8" cy="127.3" r="3.8"/><circle cx="863.0" cy="133.5" r="3.8"/><circle cx="874.2" cy="142.3" r="3.8"/><circle cx="885.5" cy="149.3" r="3.8"/><circle cx="896.7" cy="158.2" r="3.8"/><circle cx="908.0" cy="166.6" r="3.8"/><circle cx="919.2" cy="177.3" r="3.8"/><circle cx="930.4" cy="190.7" r="3.8"/><circle cx="941.7" cy="203.5" r="3.8"/><circle cx="952.9" cy="217.8" r="3.8"/><circle cx="964.2" cy="224.4" r="3.8"/><circle cx="975.4" cy="241.0" r="3.8"/><circle cx="986.6" cy="253.7" r="3.8"/><circle cx="997.9" cy="267.4" r="3.8"/><circle cx="1009.1" cy="280.7" r="3.8"/><circle cx="1020.4" cy="290.8" r="3.8"/><circle cx="1031.6" cy="301.8" r="3.8"/><circle cx="1042.8" cy="310.0" r="3.8"/><circle cx="1054.1" cy="318.5" r="3.8"/><circle cx="1065.3" cy="326.4" r="3.8"/><circle cx="1076.6" cy="333.4" r="3.8"/></g>
<g fill="#000" fill-opacity="0.85"><circle cx="638.2" cy="62.7" r="3.8"/><circle cx="649.4" cy="63.5" r="3.8"/><circle cx="660.7" cy="67.0" r="3.8"/><circle cx="671.9" cy="67.3" r="3.8"/><circle cx="683.2" cy="68.5" r="3.8"/><circle cx="694.4" cy="70.7" r="3.8"/><circle cx="705.6" cy="72.3" r="3.8"/><circle cx="716.9" cy="75.3" r="3.8"/><circle cx="728.1" cy="78.3" r="3.8"/><circle cx="739.4" cy="80.7" r="3.8"/><circle cx="750.6" cy="85.4" r="3.8"/><circle cx="761.8" cy="85.6" r="3.8"/><circle cx="773.1" cy="89.2" r="3.8"/><circle cx="784.3" cy="90.5" r="3.8"/><circle cx="795.6" cy="94.5" r="3.8"/><circle cx="806.8" cy="97.0" r="3.8"/><circle cx="818.0" cy="103.2" r="3.8"/><circle cx="829.3" cy="107.3" r="3.8"/><circle cx="840.5" cy="115.8" r="3.8"/><circle cx="851.8" cy="120.1" r="3.8"/><circle cx="863.0" cy="125.1" r="3.8"/><circle cx="874.2" cy="132.9" r="3.8"/><circle cx="885.5" cy="142.1" r="3.8"/><circle cx="896.7" cy="148.8" r="3.8"/><circle cx="908.0" cy="160.3" r="3.8"/><circle cx="919.2" cy="170.4" r="3.8"/><circle cx="930.4" cy="183.1" r="3.8"/><circle cx="941.7" cy="197.9" r="3.8"/><circle cx="952.9" cy="212.4" r="3.8"/><circle cx="964.2" cy="223.0" r="3.8"/><circle cx="975.4" cy="240.1" r="3.8"/><circle cx="986.6" cy="252.9" r="3.8"/><circle cx="997.9" cy="266.6" r="3.8"/><circle cx="1009.1" cy="279.6" r="3.8"/><circle cx="1020.4" cy="290.4" r="3.8"/><circle cx="1031.6" cy="300.5" r="3.8"/><circle cx="1042.8" cy="308.9" r="3.8"/><circle cx="1054.1" cy="317.5" r="3.8"/><circle cx="1065.3" cy="324.9" r="3.8"/><circle cx="1076.6" cy="331.6" r="3.8"/></g>
<path d="M637.4 92.8 L640.5 93.1 L643.5 93.4 L646.6 93.7 L649.6 94.0 L652.7 94.3 L655.7 94.6 L658.8 94.9 L661.9 95.3 L664.9 95.6 L668.0 96.0 L671.0 96.4 L674.1 96.8 L677.2 97.2 L680.2 97.6 L683.3 98.0 L686.3 98.4 L689.4 98.8 L692.4 99.2 L695.5 99.7 L698.6 100.1 L701.6 100.6 L704.7 101.1 L707.7 101.6 L710.8 102.1 L713.8 102.6 L716.9 103.2 L720.0 103.7 L723.0 104.3 L726.1 104.8 L729.1 105.4 L732.2 106.0 L735.3 106.6 L738.3 107.1 L741.4 107.7 L744.4 108.3 L747.5 108.9 L750.5 109.5 L753.6 110.1 L756.7 110.7 L759.7 111.3 L762.8 111.9 L765.8 112.5 L768.9 113.1 L772.0 113.8 L775.0 114.5 L778.1 115.2 L781.1 115.9 L784.2 116.6 L787.2 117.4 L790.3 118.3 L793.4 119.1 L796.4 120.1 L799.5 121.1 L802.5 122.2 L805.6 123.5 L808.6 124.9 L811.7 126.4 L814.8 127.9 L817.8 129.5 L820.9 131.0 L823.9 132.6 L827.0 134.2 L830.1 135.6 L833.1 137.0 L836.2 138.4 L839.2 139.8 L842.3 141.2 L845.3 142.6 L848.4 144.0 L851.5 145.5 L854.5 147.0 L857.6 148.5 L860.6 150.1 L863.7 151.8 L866.7 153.5 L869.8 155.3 L872.9 157.1 L875.9 159.0 L879.0 160.9 L882.0 162.9 L885.1 164.9 L888.2 167.1 L891.2 169.3 L894.3 171.7 L897.3 174.2 L900.4 176.8 L903.4 179.5 L906.5 182.3 L909.6 185.2 L912.6 188.0 L915.7 190.8 L918.7 193.6 L921.8 196.5 L924.9 199.3 L927.9 202.2 L931.0 205.2 L934.0 208.3 L937.1 211.5 L940.1 215.0 L943.2 218.6 L946.3 222.4 L949.3 226.4 L952.4 230.5 L955.4 234.7 L958.5 239.0 L961.5 243.2 L964.6 247.5 L967.7 251.9 L970.7 256.3 L973.8 260.8 L976.8 265.4 L979.9 270.2 L983.0 275.1 L986.0 280.2 L989.1 285.5 L992.1 290.9 L995.2 296.5 L998.2 302.2 L1001.3 308.0" fill="none" stroke="#000" stroke-width="3.8" stroke-opacity="0.42" stroke-linejoin="round" />
<path d="M637.4 72.7 L640.5 73.1 L643.5 73.4 L646.6 73.8 L649.7 74.2 L652.7 74.6 L655.8 75.0 L658.9 75.4 L661.9 75.8 L665.0 76.2 L668.1 76.7 L671.1 77.1 L674.2 77.5 L677.3 78.0 L680.3 78.4 L683.4 78.9 L686.4 79.3 L689.5 79.8 L692.6 80.3 L695.6 80.7 L698.7 81.2 L701.8 81.7 L704.8 82.2 L707.9 82.7 L711.0 83.2 L714.0 83.7 L717.1 84.2 L720.2 84.7 L723.2 85.3 L726.3 85.8 L729.4 86.4 L732.4 87.0 L735.5 87.6 L738.6 88.2 L741.6 88.8 L744.7 89.4 L747.8 90.1 L750.8 90.7 L753.9 91.4 L757.0 92.0 L760.0 92.7 L763.1 93.4 L766.2 94.2 L769.2 94.9 L772.3 95.7 L775.3 96.5 L778.4 97.3 L781.5 98.1 L784.5 99.0 L787.6 99.9 L790.7 100.8 L793.7 101.7 L796.8 102.7 L799.9 103.7 L802.9 104.8 L806.0 106.0 L809.1 107.3 L812.1 108.6 L815.2 110.0 L818.3 111.3 L821.3 112.7 L824.4 114.1 L827.5 115.5 L830.5 116.8 L833.6 118.1 L836.7 119.4 L839.7 120.7 L842.8 122.0 L845.9 123.3 L848.9 124.7 L852.0 126.1 L855.1 127.6 L858.1 129.1 L861.2 130.7 L864.3 132.5 L867.3 134.3 L870.4 136.2 L873.4 138.2 L876.5 140.3 L879.6 142.4 L882.6 144.6 L885.7 146.9 L888.8 149.2 L891.8 151.6 L894.9 154.1 L898.0 156.7 L901.0 159.5 L904.1 162.3 L907.2 165.2 L910.2 168.1 L913.3 171.1 L916.4 174.0 L919.4 177.0 L922.5 180.0 L925.6 183.1 L928.6 186.3 L931.7 189.6 L934.8 193.0 L937.8 196.6 L940.9 200.5 L944.0 204.6 L947.0 208.9 L950.1 213.2 L953.2 217.8 L956.2 222.5 L959.3 227.3 L962.3 232.2 L965.4 237.1 L968.5 241.8 L971.5 246.5 L974.6 251.2 L977.7 255.9 L980.7 260.7 L983.8 265.7 L986.9 270.8 L989.9 276.1 L993.0 281.5 L996.1 287.1 L999.1 292.7 L1002.2 298.5" fill="none" stroke="#000" stroke-width="3.8" stroke-opacity="0.7" stroke-linejoin="round" />
<g fill="#000"><circle cx="638.2" cy="99.0" r="3.8"/><circle cx="649.4" cy="24.6" r="3.8"/><circle cx="660.7" cy="65.6" r="3.8"/><circle cx="671.9" cy="51.2" r="3.8"/><circle cx="683.2" cy="66.4" r="3.8"/><circle cx="694.4" cy="54.7" r="3.8"/><circle cx="705.6" cy="51.2" r="3.8"/><circle cx="716.9" cy="77.0" r="3.8"/><circle cx="728.1" cy="65.6" r="3.8"/><circle cx="739.4" cy="100.5" r="3.8"/><circle cx="750.6" cy="83.1" r="3.8"/><circle cx="761.8" cy="67.4" r="3.8"/><circle cx="773.1" cy="89.1" r="3.8"/><circle cx="784.3" cy="92.2" r="3.8"/><circle cx="795.6" cy="89.9" r="3.8"/><circle cx="806.8" cy="90.7" r="3.8"/><circle cx="818.0" cy="90.7" r="3.8"/><circle cx="829.3" cy="94.5" r="3.8"/><circle cx="840.5" cy="102.1" r="3.8"/><circle cx="851.8" cy="101.3" r="3.8"/><circle cx="863.0" cy="111.2" r="3.8"/><circle cx="874.2" cy="117.3" r="3.8"/><circle cx="885.5" cy="123.7" r="3.8"/><circle cx="896.7" cy="131.8" r="3.8"/><circle cx="908.0" cy="145.5" r="3.8"/><circle cx="919.2" cy="164.2" r="3.8"/><circle cx="930.4" cy="172.8" r="3.8"/><circle cx="941.7" cy="190.3" r="3.8"/><circle cx="952.9" cy="207.0" r="3.8"/><circle cx="964.2" cy="222.0" r="3.8"/><circle cx="975.4" cy="238.9" r="3.8"/><circle cx="986.6" cy="251.4" r="3.8"/><circle cx="997.9" cy="265.8" r="3.8"/><circle cx="1009.1" cy="278.3" r="3.8"/><circle cx="1020.4" cy="289.2" r="3.8"/><circle cx="1031.6" cy="299.4" r="3.8"/><circle cx="1042.8" cy="308.0" r="3.8"/><circle cx="1054.1" cy="316.7" r="3.8"/><circle cx="1065.3" cy="324.3" r="3.8"/><circle cx="1076.6" cy="331.0" r="3.8"/></g>
<path d="M637.4 54.0 L640.5 54.4 L643.5 54.8 L646.6 55.3 L649.7 55.7 L652.7 56.2 L655.8 56.6 L658.9 57.1 L662.0 57.6 L665.0 58.1 L668.1 58.6 L671.2 59.1 L674.2 59.6 L677.3 60.2 L680.4 60.7 L683.4 61.3 L686.5 61.8 L689.6 62.4 L692.7 62.9 L695.7 63.5 L698.8 64.1 L701.9 64.8 L704.9 65.4 L708.0 66.0 L711.1 66.7 L714.1 67.4 L717.2 68.0 L720.3 68.7 L723.4 69.4 L726.4 70.1 L729.5 70.8 L732.6 71.5 L735.6 72.2 L738.7 73.0 L741.8 73.7 L744.8 74.4 L747.9 75.1 L751.0 75.8 L754.1 76.5 L757.1 77.2 L760.2 77.9 L763.3 78.6 L766.3 79.3 L769.4 80.0 L772.5 80.8 L775.5 81.5 L778.6 82.3 L781.7 83.1 L784.7 83.9 L787.8 84.8 L790.9 85.7 L794.0 86.6 L797.0 87.5 L800.1 88.6 L803.2 89.7 L806.2 90.9 L809.3 92.1 L812.4 93.5 L815.4 94.8 L818.5 96.2 L821.6 97.6 L824.7 99.0 L827.7 100.4 L830.8 101.8 L833.9 103.1 L836.9 104.5 L840.0 105.8 L843.1 107.2 L846.1 108.6 L849.2 110.0 L852.3 111.5 L855.4 113.1 L858.4 114.7 L861.5 116.4 L864.6 118.3 L867.6 120.2 L870.7 122.2 L873.8 124.3 L876.8 126.5 L879.9 128.8 L883.0 131.1 L886.0 133.4 L889.1 135.8 L892.2 138.2 L895.3 140.6 L898.3 143.1 L901.4 145.7 L904.5 148.4 L907.5 151.1 L910.6 154.0 L913.7 157.0 L916.7 160.1 L919.8 163.4 L922.9 166.8 L926.0 170.4 L929.0 174.2 L932.1 178.0 L935.2 181.9 L938.2 185.9 L941.3 190.0 L944.4 194.2 L947.4 198.5 L950.5 202.9 L953.6 207.4 L956.7 212.1 L959.7 216.9 L962.8 221.8 L965.9 226.8 L968.9 232.1 L972.0 237.5 L975.1 243.0 L978.1 248.7 L981.2 254.4 L984.3 260.3 L987.4 266.2 L990.4 272.3 L993.5 278.4 L996.6 284.7 L999.6 291.0 L1002.7 297.5" fill="none" stroke="#000" stroke-width="4.2" stroke-linejoin="round" />
</g>
<line x1="743.30" y1="32.90" x2="743.30" y2="161.20" stroke="#000" stroke-width="4.8" />
<polygon points="743.3,174.0 736.2,160.2 750.4,160.2" fill="#000"/>
<text transform="translate(552.07,28.20) scale(0.9927,1.0000)" font-size="35.90" fill="#000" font-family="Liberation Sans, sans-serif"><tspan>(b)</tspan></text>
<text transform="translate(606.76,98.20) scale(1.0247,1.0000)" font-size="35.30" fill="#000" font-family="Liberation Sans, sans-serif"><tspan>8</tspan></text>
<text transform="translate(602.50,226.30) scale(1.0097,1.0000)" font-size="35.30" fill="#000" font-family="Liberation Sans, sans-serif"><tspan>4</tspan></text>
<text transform="translate(602.23,351.50) scale(1.0442,1.0000)" font-size="35.30" fill="#000" font-family="Liberation Sans, sans-serif"><tspan>0</tspan></text>
<text transform="translate(631.34,379.00) scale(0.9684,1.0000)" font-size="35.30" fill="#000" font-family="Liberation Sans, sans-serif"><tspan>10</tspan></text>
<text transform="translate(670.40,366.80) scale(0.9473,1.0000)" font-size="23.20" fill="#000" font-family="Liberation Sans, sans-serif"><tspan>2</tspan></text>
<text transform="translate(835.07,378.70) scale(0.9571,1.0000)" font-size="35.30" fill="#000" font-family="Liberation Sans, sans-serif"><tspan>10</tspan></text>
<text transform="translate(873.49,367.00) scale(0.9816,1.0000)" font-size="23.20" fill="#000" font-family="Liberation Sans, sans-serif"><tspan>4</tspan></text>
<text transform="translate(1041.50,379.60) scale(0.9826,1.0000)" font-size="35.30" fill="#000" font-family="Liberation Sans, sans-serif"><tspan>10</tspan></text>
<text transform="translate(1080.02,366.70) scale(1.0158,1.0000)" font-size="23.20" fill="#000" font-family="Liberation Sans, sans-serif"><tspan>6</tspan></text>
<text transform="translate(744.24,412.90) scale(0.9620,1.0000)" font-size="36.00" fill="#000" font-family="Liberation Sans, sans-serif"><tspan>Frequency</tspan></text>
<text transform="translate(917.63,412.90) scale(0.9207,1.0000)" font-size="36.00" fill="#000" font-family="Liberation Sans, sans-serif"><tspan>(Hz)</tspan></text>
<text transform="translate(582.20,320.21) rotate(-90) scale(0.9495,1.0000)" font-size="36.00" fill="#000" font-family="Liberation Sans, sans-serif"><tspan>Capacitance</tspan></text>
<text transform="translate(582.20,120.66) rotate(-90) scale(0.9162,1.0000)" font-size="36.00" fill="#000" font-family="Liberation Sans, sans-serif"><tspan>(nF)</tspan></text>
<text transform="translate(824.41,63.80) scale(1.0066,1.0000)" font-size="36.00" fill="#000" font-family="Liberation Sans, sans-serif"><tspan>Polymer:</tspan></text>
<text transform="translate(972.39,63.80) scale(0.9122,1.0000)" font-size="36.00" fill="#000" font-family="Liberation Sans, sans-serif"><tspan>PCBM</tspan></text>
<text transform="translate(672.78,224.80) scale(0.8716,1.0000)" font-size="36.00" fill="#000" font-family="Liberation Sans, sans-serif"><tspan font-style="italic">T</tspan></text>
<text transform="translate(700.55,224.80) scale(0.9497,1.0000)" font-size="36.00" fill="#000" font-family="Liberation Sans, sans-serif"><tspan>decrease</tspan></text>
<line x1="1203.30" y1="342.00" x2="1203.30" y2="331.00" stroke="#000" stroke-width="1.9" />
<line x1="1235.03" y1="342.00" x2="1235.03" y2="336.00" stroke="#000" stroke-width="1.9" />
<line x1="1253.59" y1="342.00" x2="1253.59" y2="336.00" stroke="#000" stroke-width="1.9" />
<line x1="1266.76" y1="342.00" x2="1266.76" y2="336.00" stroke="#000" stroke-width="1.9" />
<line x1="1276.97" y1="342.00" x2="1276.97" y2="336.00" stroke="#000" stroke-width="1.9" />
<line x1="1285.32" y1="342.00" x2="1285.32" y2="336.00" stroke="#000" stroke-width="1.9" />
<line x1="1292.37" y1="342.00" x2="1292.37" y2="336.00" stroke="#000" stroke-width="1.9" />
<line x1="1298.49" y1="342.00" x2="1298.49" y2="336.00" stroke="#000" stroke-width="1.9" />
<line x1="1303.88" y1="342.00" x2="1303.88" y2="336.00" stroke="#000" stroke-width="1.9" />
<line x1="1308.70" y1="342.00" x2="1308.70" y2="331.00" stroke="#000" stroke-width="1.9" />
<line x1="1340.43" y1="342.00" x2="1340.43" y2="336.00" stroke="#000" stroke-width="1.9" />
<line x1="1358.99" y1="342.00" x2="1358.99" y2="336.00" stroke="#000" stroke-width="1.9" />
<line x1="1372.16" y1="342.00" x2="1372.16" y2="336.00" stroke="#000" stroke-width="1.9" />
<line x1="1382.37" y1="342.00" x2="1382.37" y2="336.00" stroke="#000" stroke-width="1.9" />
<line x1="1390.72" y1="342.00" x2="1390.72" y2="336.00" stroke="#000" stroke-width="1.9" />
<line x1="1397.77" y1="342.00" x2="1397.77" y2="336.00" stroke="#000" stroke-width="1.9" />
<line x1="1403.89" y1="342.00" x2="1403.89" y2="336.00" stroke="#000" stroke-width="1.9" />
<line x1="1409.28" y1="342.00" x2="1409.28" y2="336.00" stroke="#000" stroke-width="1.9" />
<line x1="1414.10" y1="342.00" x2="1414.10" y2="331.00" stroke="#000" stroke-width="1.9" />
<line x1="1445.83" y1="342.00" x2="1445.83" y2="336.00" stroke="#000" stroke-width="1.9" />
<line x1="1464.39" y1="342.00" x2="1464.39" y2="336.00" stroke="#000" stroke-width="1.9" />
<line x1="1477.56" y1="342.00" x2="1477.56" y2="336.00" stroke="#000" stroke-width="1.9" />
<line x1="1487.77" y1="342.00" x2="1487.77" y2="336.00" stroke="#000" stroke-width="1.9" />
<line x1="1496.12" y1="342.00" x2="1496.12" y2="336.00" stroke="#000" stroke-width="1.9" />
<line x1="1503.17" y1="342.00" x2="1503.17" y2="336.00" stroke="#000" stroke-width="1.9" />
<line x1="1509.29" y1="342.00" x2="1509.29" y2="336.00" stroke="#000" stroke-width="1.9" />
<line x1="1514.68" y1="342.00" x2="1514.68" y2="336.00" stroke="#000" stroke-width="1.9" />
<line x1="1519.50" y1="342.00" x2="1519.50" y2="331.00" stroke="#000" stroke-width="1.9" />
<line x1="1551.23" y1="342.00" x2="1551.23" y2="336.00" stroke="#000" stroke-width="1.9" />
<line x1="1569.79" y1="342.00" x2="1569.79" y2="336.00" stroke="#000" stroke-width="1.9" />
<line x1="1582.96" y1="342.00" x2="1582.96" y2="336.00" stroke="#000" stroke-width="1.9" />
<line x1="1593.17" y1="342.00" x2="1593.17" y2="336.00" stroke="#000" stroke-width="1.9" />
<line x1="1601.52" y1="342.00" x2="1601.52" y2="336.00" stroke="#000" stroke-width="1.9" />
<line x1="1608.57" y1="342.00" x2="1608.57" y2="336.00" stroke="#000" stroke-width="1.9" />
<line x1="1614.69" y1="342.00" x2="1614.69" y2="336.00" stroke="#000" stroke-width="1.9" />
<line x1="1620.08" y1="342.00" x2="1620.08" y2="336.00" stroke="#000" stroke-width="1.9" />
<line x1="1193.30" y1="86.80" x2="1203.60" y2="86.80" stroke="#000" stroke-width="2.5" />
<line x1="1193.30" y1="150.60" x2="1199.30" y2="150.60" stroke="#000" stroke-width="2.5" />
<line x1="1193.30" y1="214.40" x2="1203.60" y2="214.40" stroke="#000" stroke-width="2.5" />
<line x1="1193.30" y1="278.20" x2="1199.30" y2="278.20" stroke="#000" stroke-width="2.5" />
<line x1="1192.20" y1="22.30" x2="1626.20" y2="22.30" stroke="#000" stroke-width="2.5" />
<line x1="1192.20" y1="342.00" x2="1626.20" y2="342.00" stroke="#000" stroke-width="2.5" />
<line x1="1193.30" y1="22.30" x2="1193.30" y2="342.00" stroke="#000" stroke-width="2.2" />
<line x1="1625.10" y1="22.30" x2="1625.10" y2="342.00" stroke="#000" stroke-width="2.2" />
<clipPath id="cc"><rect x="1192.20" y="22.30" width="431.90" height="318.50"/></clipPath>
<g clip-path="url(#cc)">
<g fill="#008000" fill-opacity="0.35"><circle cx="1192.1" cy="156.6" r="3.8"/><circle cx="1203.2" cy="162.7" r="3.8"/><circle cx="1214.3" cy="169.6" r="3.8"/><circle cx="1225.5" cy="169.0" r="3.8"/><circle cx="1236.6" cy="181.7" r="3.8"/><circle cx="1247.7" cy="193.3" r="3.8"/><circle cx="1258.8" cy="200.8" r="3.8"/><circle cx="1270.0" cy="207.2" r="3.8"/><circle cx="1281.1" cy="212.9" r="3.8"/><circle cx="1292.2" cy="221.3" r="3.8"/><circle cx="1303.4" cy="231.2" r="3.8"/><circle cx="1314.5" cy="239.3" r="3.8"/><circle cx="1325.6" cy="246.3" r="3.8"/><circle cx="1336.8" cy="251.9" r="3.8"/><circle cx="1347.9" cy="256.0" r="3.8"/><circle cx="1359.0" cy="259.8" r="3.8"/><circle cx="1370.1" cy="262.5" r="3.8"/><circle cx="1381.3" cy="264.4" r="3.8"/><circle cx="1392.4" cy="265.6" r="3.8"/><circle cx="1403.5" cy="267.4" r="3.8"/><circle cx="1414.7" cy="267.4" r="3.8"/><circle cx="1425.8" cy="268.1" r="3.8"/><circle cx="1436.9" cy="268.2" r="3.8"/><circle cx="1448.1" cy="269.0" r="3.8"/><circle cx="1459.2" cy="269.6" r="3.8"/><circle cx="1470.3" cy="270.3" r="3.8"/><circle cx="1481.4" cy="270.7" r="3.8"/><circle cx="1492.6" cy="271.7" r="3.8"/><circle cx="1503.7" cy="272.1" r="3.8"/><circle cx="1514.8" cy="273.2" r="3.8"/><circle cx="1526.0" cy="274.1" r="3.8"/><circle cx="1537.1" cy="275.8" r="3.8"/><circle cx="1548.2" cy="277.3" r="3.8"/><circle cx="1559.4" cy="280.2" r="3.8"/><circle cx="1570.5" cy="284.1" r="3.8"/><circle cx="1581.6" cy="288.2" r="3.8"/><circle cx="1592.8" cy="293.2" r="3.8"/><circle cx="1603.9" cy="298.7" r="3.8"/><circle cx="1615.0" cy="305.7" r="3.8"/><circle cx="1626.1" cy="314.3" r="3.8"/></g>
<g fill="#008000" fill-opacity="0.45"><circle cx="1192.1" cy="164.7" r="3.8"/><circle cx="1203.2" cy="169.8" r="3.8"/><circle cx="1214.3" cy="173.9" r="3.8"/><circle cx="1225.5" cy="179.4" r="3.8"/><circle cx="1236.6" cy="188.9" r="3.8"/><circle cx="1247.7" cy="191.2" r="3.8"/><circle cx="1258.8" cy="200.9" r="3.8"/><circle cx="1270.0" cy="207.5" r="3.8"/><circle cx="1281.1" cy="211.8" r="3.8"/><circle cx="1292.2" cy="223.8" r="3.8"/><circle cx="1303.4" cy="230.4" r="3.8"/><circle cx="1314.5" cy="237.5" r="3.8"/><circle cx="1325.6" cy="244.3" r="3.8"/><circle cx="1336.8" cy="249.4" r="3.8"/><circle cx="1347.9" cy="252.8" r="3.8"/><circle cx="1359.0" cy="256.2" r="3.8"/><circle cx="1370.1" cy="258.9" r="3.8"/><circle cx="1381.3" cy="261.6" r="3.8"/><circle cx="1392.4" cy="263.3" r="3.8"/><circle cx="1403.5" cy="264.5" r="3.8"/><circle cx="1414.7" cy="265.1" r="3.8"/><circle cx="1425.8" cy="266.2" r="3.8"/><circle cx="1436.9" cy="266.7" r="3.8"/><circle cx="1448.1" cy="267.4" r="3.8"/><circle cx="1459.2" cy="267.7" r="3.8"/><circle cx="1470.3" cy="268.4" r="3.8"/><circle cx="1481.4" cy="269.5" r="3.8"/><circle cx="1492.6" cy="270.7" r="3.8"/><circle cx="1503.7" cy="271.4" r="3.8"/><circle cx="1514.8" cy="273.3" r="3.8"/><circle cx="1526.0" cy="274.2" r="3.8"/><circle cx="1537.1" cy="275.8" r="3.8"/><circle cx="1548.2" cy="277.8" r="3.8"/><circle cx="1559.4" cy="280.7" r="3.8"/><circle cx="1570.5" cy="284.2" r="3.8"/><circle cx="1581.6" cy="287.8" r="3.8"/><circle cx="1592.8" cy="293.3" r="3.8"/><circle cx="1603.9" cy="298.8" r="3.8"/><circle cx="1615.0" cy="305.4" r="3.8"/><circle cx="1626.1" cy="314.2" r="3.8"/></g>
<g fill="#008000" fill-opacity="0.55"><circle cx="1192.1" cy="170.3" r="3.8"/><circle cx="1203.2" cy="171.3" r="3.8"/><circle cx="1214.3" cy="180.2" r="3.8"/><circle cx="1225.5" cy="182.4" r="3.8"/><circle cx="1236.6" cy="186.8" r="3.8"/><circle cx="1247.7" cy="193.7" r="3.8"/><circle cx="1258.8" cy="202.6" r="3.8"/><circle cx="1270.0" cy="205.7" r="3.8"/><circle cx="1281.1" cy="215.5" r="3.8"/><circle cx="1292.2" cy="224.0" r="3.8"/><circle cx="1303.4" cy="228.2" r="3.8"/><circle cx="1314.5" cy="234.6" r="3.8"/><circle cx="1325.6" cy="240.7" r="3.8"/><circle cx="1336.8" cy="245.6" r="3.8"/><circle cx="1347.9" cy="249.4" r="3.8"/><circle cx="1359.0" cy="252.2" r="3.8"/><circle cx="1370.1" cy="255.0" r="3.8"/><circle cx="1381.3" cy="256.7" r="3.8"/><circle cx="1392.4" cy="258.8" r="3.8"/><circle cx="1403.5" cy="260.3" r="3.8"/><circle cx="1414.7" cy="261.9" r="3.8"/><circle cx="1425.8" cy="262.4" r="3.8"/><circle cx="1436.9" cy="263.8" r="3.8"/><circle cx="1448.1" cy="264.2" r="3.8"/><circle cx="1459.2" cy="265.4" r="3.8"/><circle cx="1470.3" cy="266.8" r="3.8"/><circle cx="1481.4" cy="268.5" r="3.8"/><circle cx="1492.6" cy="269.8" r="3.8"/><circle cx="1503.7" cy="271.1" r="3.8"/><circle cx="1514.8" cy="272.0" r="3.8"/><circle cx="1526.0" cy="273.7" r="3.8"/><circle cx="1537.1" cy="275.3" r="3.8"/><circle cx="1548.2" cy="277.4" r="3.8"/><circle cx="1559.4" cy="280.0" r="3.8"/><circle cx="1570.5" cy="284.6" r="3.8"/><circle cx="1581.6" cy="287.9" r="3.8"/><circle cx="1592.8" cy="293.5" r="3.8"/><circle cx="1603.9" cy="299.0" r="3.8"/><circle cx="1615.0" cy="304.8" r="3.8"/><circle cx="1626.1" cy="314.1" r="3.8"/></g>
<g fill="#008000" fill-opacity="0.7"><circle cx="1192.1" cy="178.8" r="3.8"/><circle cx="1203.2" cy="179.4" r="3.8"/><circle cx="1214.3" cy="188.5" r="3.8"/><circle cx="1225.5" cy="190.0" r="3.8"/><circle cx="1236.6" cy="191.9" r="3.8"/><circle cx="1247.7" cy="200.4" r="3.8"/><circle cx="1258.8" cy="201.8" r="3.8"/><circle cx="1270.0" cy="208.9" r="3.8"/><circle cx="1281.1" cy="212.1" r="3.8"/><circle cx="1292.2" cy="219.9" r="3.8"/><circle cx="1303.4" cy="226.1" r="3.8"/><circle cx="1314.5" cy="230.6" r="3.8"/><circle cx="1325.6" cy="236.5" r="3.8"/><circle cx="1336.8" cy="240.2" r="3.8"/><circle cx="1347.9" cy="244.1" r="3.8"/><circle cx="1359.0" cy="246.7" r="3.8"/><circle cx="1370.1" cy="248.8" r="3.8"/><circle cx="1381.3" cy="252.2" r="3.8"/><circle cx="1392.4" cy="253.9" r="3.8"/><circle cx="1403.5" cy="255.0" r="3.8"/><circle cx="1414.7" cy="256.4" r="3.8"/><circle cx="1425.8" cy="258.3" r="3.8"/><circle cx="1436.9" cy="259.7" r="3.8"/><circle cx="1448.1" cy="261.1" r="3.8"/><circle cx="1459.2" cy="262.5" r="3.8"/><circle cx="1470.3" cy="264.4" r="3.8"/><circle cx="1481.4" cy="266.0" r="3.8"/><circle cx="1492.6" cy="268.3" r="3.8"/><circle cx="1503.7" cy="269.0" r="3.8"/><circle cx="1514.8" cy="271.6" r="3.8"/><circle cx="1526.0" cy="273.4" r="3.8"/><circle cx="1537.1" cy="274.4" r="3.8"/><circle cx="1548.2" cy="277.7" r="3.8"/><circle cx="1559.4" cy="280.5" r="3.8"/><circle cx="1570.5" cy="284.4" r="3.8"/><circle cx="1581.6" cy="287.8" r="3.8"/><circle cx="1592.8" cy="292.7" r="3.8"/><circle cx="1603.9" cy="298.3" r="3.8"/><circle cx="1615.0" cy="305.9" r="3.8"/><circle cx="1626.1" cy="314.2" r="3.8"/></g>
<g fill="#008000" fill-opacity="0.85"><circle cx="1192.1" cy="215.0" r="3.8"/><circle cx="1203.2" cy="217.0" r="3.8"/><circle cx="1214.3" cy="206.0" r="3.8"/><circle cx="1225.5" cy="222.0" r="3.8"/><circle cx="1236.6" cy="220.0" r="3.8"/><circle cx="1247.7" cy="223.0" r="3.8"/><circle cx="1258.8" cy="222.0" r="3.8"/><circle cx="1270.0" cy="219.0" r="3.8"/><circle cx="1281.1" cy="228.0" r="3.8"/><circle cx="1292.2" cy="222.0" r="3.8"/><circle cx="1303.4" cy="221.5" r="3.8"/><circle cx="1314.5" cy="224.8" r="3.8"/><circle cx="1325.6" cy="228.6" r="3.8"/><circle cx="1336.8" cy="232.4" r="3.8"/><circle cx="1347.9" cy="235.1" r="3.8"/><circle cx="1359.0" cy="237.7" r="3.8"/><circle cx="1370.1" cy="240.1" r="3.8"/><circle cx="1381.3" cy="243.3" r="3.8"/><circle cx="1392.4" cy="246.0" r="3.8"/><circle cx="1403.5" cy="247.6" r="3.8"/><circle cx="1414.7" cy="249.7" r="3.8"/><circle cx="1425.8" cy="250.8" r="3.8"/><circle cx="1436.9" cy="253.8" r="3.8"/><circle cx="1448.1" cy="255.8" r="3.8"/><circle cx="1459.2" cy="258.5" r="3.8"/><circle cx="1470.3" cy="260.8" r="3.8"/><circle cx="1481.4" cy="262.6" r="3.8"/><circle cx="1492.6" cy="264.6" r="3.8"/><circle cx="1503.7" cy="268.0" r="3.8"/><circle cx="1514.8" cy="269.3" r="3.8"/><circle cx="1526.0" cy="271.9" r="3.8"/><circle cx="1537.1" cy="274.0" r="3.8"/><circle cx="1548.2" cy="276.6" r="3.8"/><circle cx="1559.4" cy="280.3" r="3.8"/><circle cx="1570.5" cy="284.2" r="3.8"/><circle cx="1581.6" cy="287.6" r="3.8"/><circle cx="1592.8" cy="292.8" r="3.8"/><circle cx="1603.9" cy="298.0" r="3.8"/><circle cx="1615.0" cy="305.3" r="3.8"/><circle cx="1626.1" cy="314.0" r="3.8"/></g>
<path d="M1192.2 160.6 L1195.8 162.4 L1199.5 164.2 L1203.1 166.1 L1206.8 168.0 L1210.4 170.0 L1214.1 171.9 L1217.7 173.9 L1221.4 176.0 L1225.0 178.0 L1228.7 180.1 L1232.3 182.3 L1235.9 184.5 L1239.6 186.7 L1243.2 189.0 L1246.9 191.3 L1250.5 193.6 L1254.2 195.9 L1257.8 198.3 L1261.5 200.7 L1265.1 203.1 L1268.8 205.5 L1272.4 208.0 L1276.0 210.6 L1279.7 213.1 L1283.3 215.8 L1287.0 218.6 L1290.6 221.4 L1294.3 224.2 L1297.9 227.0 L1301.6 229.7 L1305.2 232.3 L1308.9 234.9 L1312.5 237.4 L1316.1 239.9 L1319.8 242.3 L1323.4 244.6 L1327.1 246.6 L1330.7 248.4 L1334.4 250.1 L1338.0 251.6 L1341.7 253.1 L1345.3 254.4 L1349.0 255.6 L1352.6 256.7 L1356.2 257.7 L1359.9 258.6 L1363.5 259.5 L1367.2 260.4 L1370.8 261.3 L1374.5 262.1 L1378.1 262.8 L1381.8 263.5 L1385.4 264.1 L1389.1 264.6 L1392.7 265.1 L1396.3 265.4 L1400.0 265.8 L1403.6 266.1 L1407.3 266.4 L1410.9 266.6 L1414.6 266.9 L1418.2 267.1 L1421.9 267.3 L1425.5 267.5 L1429.1 267.7 L1432.8 267.8 L1436.4 268.0 L1440.1 268.2 L1443.7 268.4 L1447.4 268.5 L1451.0 268.7 L1454.7 268.9 L1458.3 269.1 L1462.0 269.3 L1465.6 269.5 L1469.2 269.8 L1472.9 270.0 L1476.5 270.3 L1480.2 270.6 L1483.8 270.8 L1487.5 271.1 L1491.1 271.3 L1494.8 271.6 L1498.4 271.9 L1502.1 272.2 L1505.7 272.5 L1509.3 272.8 L1513.0 273.1 L1516.6 273.5 L1520.3 273.8 L1523.9 274.2 L1527.6 274.6 L1531.2 275.0 L1534.9 275.5 L1538.5 276.0 L1542.2 276.6 L1545.8 277.3 L1549.4 278.0 L1553.1 278.9 L1556.7 279.9 L1560.4 280.9 L1564.0 282.1 L1567.7 283.3 L1571.3 284.6 L1575.0 285.9 L1578.6 287.2 L1582.3 288.6 L1585.9 290.1 L1589.5 291.7 L1593.2 293.3 L1596.8 295.0 L1600.5 296.8 L1604.1 298.8 L1607.8 300.8 L1611.4 303.0 L1615.1 305.5 L1618.7 308.2 L1622.4 311.0 L1626.0 314.0" fill="none" stroke="#008000" stroke-width="3.5" stroke-opacity="0.45" stroke-linejoin="round" />
<path d="M1192.2 161.9 L1195.8 163.7 L1199.5 165.6 L1203.1 167.5 L1206.8 169.4 L1210.4 171.4 L1214.1 173.3 L1217.7 175.3 L1221.4 177.4 L1225.0 179.4 L1228.7 181.5 L1232.3 183.7 L1235.9 185.8 L1239.6 188.1 L1243.2 190.3 L1246.9 192.6 L1250.5 194.8 L1254.2 197.1 L1257.8 199.4 L1261.5 201.7 L1265.1 204.0 L1268.8 206.4 L1272.4 208.7 L1276.0 211.1 L1279.7 213.3 L1283.3 215.5 L1287.0 217.7 L1290.6 219.9 L1294.3 222.0 L1297.9 224.0 L1301.6 225.8 L1305.2 227.5 L1308.9 229.2 L1312.5 230.8 L1316.1 232.4 L1319.8 233.9 L1323.4 235.4 L1327.1 236.8 L1330.7 238.2 L1334.4 239.5 L1338.0 240.8 L1341.7 242.1 L1345.3 243.3 L1349.0 244.4 L1352.6 245.5 L1356.2 246.6 L1359.9 247.7 L1363.5 248.7 L1367.2 249.7 L1370.8 250.8 L1374.5 251.8 L1378.1 253.0 L1381.8 254.1 L1385.4 255.3 L1389.1 256.4 L1392.7 257.3 L1396.3 258.1 L1400.0 258.7 L1403.6 259.3 L1407.3 259.8 L1410.9 260.3 L1414.6 260.8 L1418.2 261.2 L1421.9 261.7 L1425.5 262.1 L1429.1 262.5 L1432.8 262.9 L1436.4 263.3 L1440.1 263.6 L1443.7 264.0 L1447.4 264.3 L1451.0 264.7 L1454.7 265.0 L1458.3 265.3 L1462.0 265.6 L1465.6 266.0 L1469.2 266.3 L1472.9 266.7 L1476.5 267.1 L1480.2 267.4 L1483.8 267.8 L1487.5 268.2 L1491.1 268.5 L1494.8 268.9 L1498.4 269.3 L1502.1 269.7 L1505.7 270.1 L1509.3 270.5 L1513.0 271.0 L1516.6 271.4 L1520.3 271.9 L1523.9 272.4 L1527.6 273.0 L1531.2 273.5 L1534.9 274.2 L1538.5 275.0 L1542.2 275.8 L1545.8 276.7 L1549.4 277.6 L1553.1 278.6 L1556.7 279.6 L1560.4 280.7 L1564.0 281.9 L1567.7 283.1 L1571.3 284.3 L1575.0 285.6 L1578.6 287.0 L1582.3 288.4 L1585.9 289.8 L1589.5 291.4 L1593.2 293.0 L1596.8 294.8 L1600.5 296.6 L1604.1 298.5 L1607.8 300.6 L1611.4 302.8 L1615.1 305.4 L1618.7 308.1 L1622.4 311.0 L1626.0 314.0" fill="none" stroke="#008000" stroke-width="3.5" stroke-opacity="0.65" stroke-linejoin="round" />
<g fill="#008000"><circle cx="1192.1" cy="203.4" r="3.8"/><circle cx="1203.2" cy="202.2" r="3.8"/><circle cx="1214.3" cy="169.2" r="3.8"/><circle cx="1225.5" cy="205.3" r="3.8"/><circle cx="1236.6" cy="197.0" r="3.8"/><circle cx="1247.7" cy="207.6" r="3.8"/><circle cx="1258.8" cy="209.2" r="3.8"/><circle cx="1270.0" cy="210.9" r="3.8"/><circle cx="1281.1" cy="212.5" r="3.8"/><circle cx="1292.2" cy="214.1" r="3.8"/><circle cx="1303.4" cy="215.7" r="3.8"/><circle cx="1314.5" cy="217.5" r="3.8"/><circle cx="1325.6" cy="219.4" r="3.8"/><circle cx="1336.8" cy="221.4" r="3.8"/><circle cx="1347.9" cy="223.5" r="3.8"/><circle cx="1359.0" cy="225.9" r="3.8"/><circle cx="1370.1" cy="228.5" r="3.8"/><circle cx="1381.3" cy="231.6" r="3.8"/><circle cx="1392.4" cy="234.8" r="3.8"/><circle cx="1403.5" cy="237.5" r="3.8"/><circle cx="1414.7" cy="239.9" r="3.8"/><circle cx="1425.8" cy="242.4" r="3.8"/><circle cx="1436.9" cy="245.4" r="3.8"/><circle cx="1448.1" cy="248.6" r="3.8"/><circle cx="1459.2" cy="251.8" r="3.8"/><circle cx="1470.3" cy="255.0" r="3.8"/><circle cx="1481.4" cy="258.1" r="3.8"/><circle cx="1492.6" cy="261.1" r="3.8"/><circle cx="1503.7" cy="264.0" r="3.8"/><circle cx="1514.8" cy="266.9" r="3.8"/><circle cx="1526.0" cy="269.7" r="3.8"/><circle cx="1537.1" cy="272.4" r="3.8"/><circle cx="1548.2" cy="275.3" r="3.8"/><circle cx="1559.4" cy="278.7" r="3.8"/><circle cx="1570.5" cy="282.3" r="3.8"/><circle cx="1581.6" cy="286.6" r="3.8"/><circle cx="1592.8" cy="291.4" r="3.8"/><circle cx="1603.9" cy="297.1" r="3.8"/><circle cx="1615.0" cy="304.1" r="3.8"/><circle cx="1626.1" cy="313.1" r="3.8"/></g>
<path d="M1192.2 204.4 L1195.8 204.5 L1199.5 204.7 L1203.1 204.8 L1206.8 205.0 L1210.4 205.2 L1214.1 205.5 L1217.7 205.7 L1221.4 206.0 L1225.0 206.3 L1228.7 206.5 L1232.3 206.8 L1235.9 207.2 L1239.6 207.6 L1243.2 208.0 L1246.9 208.5 L1250.5 209.0 L1254.2 209.5 L1257.8 210.1 L1261.5 210.6 L1265.1 211.2 L1268.8 211.7 L1272.4 212.3 L1276.0 212.8 L1279.7 213.3 L1283.3 213.8 L1287.0 214.3 L1290.6 214.9 L1294.3 215.4 L1297.9 215.9 L1301.6 216.5 L1305.2 217.0 L1308.9 217.6 L1312.5 218.2 L1316.1 218.7 L1319.8 219.4 L1323.4 220.0 L1327.1 220.6 L1330.7 221.3 L1334.4 221.9 L1338.0 222.6 L1341.7 223.3 L1345.3 224.0 L1349.0 224.8 L1352.6 225.5 L1356.2 226.3 L1359.9 227.1 L1363.5 227.9 L1367.2 228.7 L1370.8 229.7 L1374.5 230.6 L1378.1 231.7 L1381.8 232.8 L1385.4 233.9 L1389.1 234.9 L1392.7 235.9 L1396.3 236.8 L1400.0 237.7 L1403.6 238.5 L1407.3 239.3 L1410.9 240.1 L1414.6 240.8 L1418.2 241.6 L1421.9 242.5 L1425.5 243.3 L1429.1 244.3 L1432.8 245.2 L1436.4 246.2 L1440.1 247.2 L1443.7 248.3 L1447.4 249.4 L1451.0 250.4 L1454.7 251.5 L1458.3 252.6 L1462.0 253.6 L1465.6 254.7 L1469.2 255.7 L1472.9 256.7 L1476.5 257.7 L1480.2 258.7 L1483.8 259.7 L1487.5 260.7 L1491.1 261.7 L1494.8 262.7 L1498.4 263.6 L1502.1 264.6 L1505.7 265.6 L1509.3 266.5 L1513.0 267.5 L1516.6 268.4 L1520.3 269.3 L1523.9 270.2 L1527.6 271.1 L1531.2 272.0 L1534.9 272.8 L1538.5 273.7 L1542.2 274.7 L1545.8 275.7 L1549.4 276.7 L1553.1 277.8 L1556.7 278.9 L1560.4 280.0 L1564.0 281.2 L1567.7 282.4 L1571.3 283.6 L1575.0 285.0 L1578.6 286.4 L1582.3 287.8 L1585.9 289.3 L1589.5 290.9 L1593.2 292.6 L1596.8 294.4 L1600.5 296.2 L1604.1 298.2 L1607.8 300.3 L1611.4 302.6 L1615.1 305.2 L1618.7 308.0 L1622.4 310.9 L1626.0 314.0" fill="none" stroke="#008000" stroke-width="3.5" stroke-linejoin="round" />
<g fill="#008000"><circle cx="1192.1" cy="254.0" r="3.8"/></g>
</g>
<line x1="1386.40" y1="197.60" x2="1331.16" y2="261.61" stroke="#70AD47" stroke-width="4.5" />
<polygon points="1322.8,271.3 1326.4,256.2 1337.2,265.5" fill="#70AD47"/>
<text transform="translate(1101.61,28.20) scale(0.9753,1.0000)" font-size="35.90" fill="#000" font-family="Liberation Sans, sans-serif"><tspan>(c)</tspan></text>
<text transform="translate(1159.34,98.20) scale(1.0367,1.0000)" font-size="35.30" fill="#000" font-family="Liberation Sans, sans-serif"><tspan>8</tspan></text>
<text transform="translate(1155.40,226.00) scale(1.0097,1.0000)" font-size="35.30" fill="#000" font-family="Liberation Sans, sans-serif"><tspan>4</tspan></text>
<text transform="translate(1155.43,350.90) scale(1.0442,1.0000)" font-size="35.30" fill="#000" font-family="Liberation Sans, sans-serif"><tspan>0</tspan></text>
<text transform="translate(1184.73,379.00) scale(0.9713,1.0000)" font-size="35.30" fill="#000" font-family="Liberation Sans, sans-serif"><tspan>10</tspan></text>
<text transform="translate(1223.38,366.80) scale(0.9663,1.0000)" font-size="23.20" fill="#000" font-family="Liberation Sans, sans-serif"><tspan>2</tspan></text>
<text transform="translate(1387.34,378.60) scale(0.9684,1.0000)" font-size="35.30" fill="#000" font-family="Liberation Sans, sans-serif"><tspan>10</tspan></text>
<text transform="translate(1426.30,366.40) scale(0.9645,1.0000)" font-size="23.20" fill="#000" font-family="Liberation Sans, sans-serif"><tspan>4</tspan></text>
<text transform="translate(1594.40,379.60) scale(0.9826,1.0000)" font-size="35.30" fill="#000" font-family="Liberation Sans, sans-serif"><tspan>10</tspan></text>
<text transform="translate(1633.52,366.70) scale(1.0158,1.0000)" font-size="23.20" fill="#000" font-family="Liberation Sans, sans-serif"><tspan>6</tspan></text>
<text transform="translate(1295.34,410.80) scale(0.9620,1.0000)" font-size="36.00" fill="#000" font-family="Liberation Sans, sans-serif"><tspan>Frequency</tspan></text>
<text transform="translate(1468.73,410.80) scale(0.9207,1.0000)" font-size="36.00" fill="#000" font-family="Liberation Sans, sans-serif"><tspan>(Hz)</tspan></text>
<text transform="translate(1135.20,320.21) rotate(-90) scale(0.9495,1.0000)" font-size="36.00" fill="#000" font-family="Liberation Sans, sans-serif"><tspan>Capacitance</tspan></text>
<text transform="translate(1135.20,120.68) rotate(-90) scale(0.9227,1.0000)" font-size="36.00" fill="#000" font-family="Liberation Sans, sans-serif"><tspan>(nF)</tspan></text>
<text transform="translate(1358.52,67.10) scale(1.0036,1.0000)" font-size="36.00" fill="#4F7F2B" font-family="Liberation Sans, sans-serif"><tspan>Polymer:</tspan></text>
<text transform="translate(1505.79,67.10) scale(0.8724,1.0000)" font-size="36.00" fill="#4F7F2B" font-family="Liberation Sans, sans-serif"><tspan>ITIC-F</tspan></text>
<text transform="translate(1211.76,298.70) scale(0.8764,1.0000)" font-size="36.00" fill="#4F7F2B" font-family="Liberation Sans, sans-serif"><tspan font-style="italic">T</tspan></text>
<text transform="translate(1239.05,298.70) scale(0.9483,1.0000)" font-size="36.00" fill="#4F7F2B" font-family="Liberation Sans, sans-serif"><tspan>decrease</tspan></text>
<clipPath id="cd"><rect x="125.10" y="457.00" width="397.60" height="294.00"/></clipPath>
<g clip-path="url(#cd)">
<path d="M136.4 535.9 L138.9 540.2 L141.4 544.3 L143.9 548.4 L146.4 552.3 L149.0 556.2 L151.5 560.0 L154.0 563.7 L156.5 567.3 L159.0 570.9 L161.5 574.3 L164.0 577.6 L166.5 580.9 L169.0 584.1 L171.5 587.2 L174.1 590.2 L176.6 593.2 L179.1 596.0 L181.6 598.8 L184.1 601.5 L186.6 604.2 L189.1 606.7 L191.6 609.2 L194.1 611.6 L196.6 614.0 L199.2 616.2 L201.7 618.4 L204.2 620.6 L206.7 622.7 L209.2 624.7 L211.7 626.6 L214.2 628.5 L216.7 630.3 L219.2 632.0 L221.7 633.7 L224.3 635.3 L226.8 636.9 L229.3 638.4 L231.8 639.9 L234.3 641.3 L236.8 642.6 L239.3 643.9 L241.8 645.2 L244.3 646.4 L246.8 647.5 L249.4 648.6 L251.9 649.6 L254.4 650.6 L256.9 651.6 L259.4 652.5 L261.9 653.4 L264.4 654.2 L266.9 655.0 L269.4 655.7 L271.9 656.4 L274.5 657.1 L277.0 657.7 L279.5 658.3 L282.0 658.8 L284.5 659.3 L287.0 659.8 L289.5 660.3 L292.0 660.7 L294.5 661.1 L297.0 661.4 L299.6 661.8 L302.1 662.1 L304.6 662.4 L307.1 662.6 L309.6 662.9 L312.1 663.1 L314.6 663.3 L317.1 663.4 L319.6 663.6 L322.1 663.7 L324.7 663.8 L327.2 663.9 L329.7 664.0 L332.2 664.1 L334.7 664.2 L337.2 664.2 L339.7 664.2 L342.2 664.3 L344.7 664.3 L347.2 664.3 L349.8 664.3 L352.3 664.3 L354.8 664.3 L357.3 664.3 L359.8 664.3 L362.3 664.2 L364.8 664.2 L367.3 664.2 L369.8 664.2 L372.3 664.2 L374.9 664.2 L377.4 664.2 L379.9 664.2 L382.4 664.2 L384.9 664.2 L387.4 664.3 L389.9 664.3 L392.4 664.4 L394.9 664.4 L397.4 664.5 L400.0 664.6 L402.5 664.7 L405.0 664.8 L407.5 665.0 L410.0 665.1 L412.5 665.3 L415.0 665.5 L417.5 665.8 L420.0 666.0 L422.5 666.3 L425.1 666.6 L427.6 666.9 L430.1 667.3 L432.6 667.6 L435.1 668.1" fill="none" stroke="#0000FF" stroke-width="5.3" stroke-opacity="0.35" stroke-linejoin="round" stroke-linecap="round"/>
<path d="M163.5 530.7 L166.3 534.9 L169.1 538.9 L171.8 543.0 L174.6 546.9 L177.4 550.9 L180.2 554.7 L182.9 558.5 L185.7 562.3 L188.5 566.0 L191.3 569.6 L194.1 573.1 L196.8 576.6 L199.6 580.1 L202.4 583.4 L205.2 586.7 L207.9 589.9 L210.7 593.1 L213.5 596.2 L216.3 599.2 L219.0 602.1 L221.8 605.0 L224.6 607.7 L227.4 610.4 L230.2 613.1 L232.9 615.6 L235.7 618.1 L238.5 620.5 L241.3 622.8 L244.0 625.0 L246.8 627.2 L249.6 629.2 L252.4 631.3 L255.2 633.2 L257.9 635.1 L260.7 636.9 L263.5 638.6 L266.3 640.3 L269.0 641.8 L271.8 643.4 L274.6 644.8 L277.4 646.2 L280.1 647.5 L282.9 648.8 L285.7 650.0 L288.5 651.1 L291.3 652.2 L294.0 653.2 L296.8 654.2 L299.6 655.1 L302.4 655.9 L305.1 656.7 L307.9 657.5 L310.7 658.2 L313.5 658.9 L316.3 659.5 L319.0 660.1 L321.8 660.7 L324.6 661.2 L327.4 661.7 L330.1 662.2 L332.9 662.6 L335.7 663.0 L338.5 663.4 L341.2 663.8 L344.0 664.2 L346.8 664.6 L349.6 664.9 L352.4 665.3 L355.1 665.6 L357.9 665.9 L360.7 666.3 L363.5 666.6 L366.2 666.9 L369.0 667.2 L371.8 667.5 L374.6 667.8 L377.4 668.1 L380.1 668.4 L382.9 668.7 L385.7 668.9 L388.5 669.2 L391.2 669.5 L394.0 669.8 L396.8 670.0 L399.6 670.3 L402.3 670.6 L405.1 670.8 L407.9 671.1 L410.7 671.4 L413.5 671.6 L416.2 671.9 L419.0 672.2 L421.8 672.4 L424.6 672.7 L427.3 673.0 L430.1 673.3 L432.9 673.6 L435.7 673.9 L438.5 674.2 L441.2 674.5 L444.0 674.8 L446.8 675.1 L449.6 675.4 L452.3 675.7 L455.1 676.0 L457.9 676.4 L460.7 676.7 L463.4 677.1 L466.2 677.4 L469.0 677.8 L471.8 678.2 L474.6 678.6 L477.3 679.0 L480.1 679.4 L482.9 679.8 L485.7 680.3 L488.4 680.7 L491.2 681.2 L494.0 681.6" fill="none" stroke="#0000FF" stroke-width="5.3" stroke-opacity="0.6" stroke-linejoin="round" stroke-linecap="round"/>
<line x1="132.90" y1="485.00" x2="302.90" y2="727.90" stroke="#5733FD" stroke-width="5.0" stroke-dasharray="13 4.7"/>
<path d="M188.4 531.2 L191.2 535.7 L194.0 540.2 L196.8 544.6 L199.7 548.8 L202.5 553.0 L205.3 557.2 L208.1 561.2 L210.9 565.2 L213.7 569.1 L216.6 572.9 L219.4 576.6 L222.2 580.3 L225.0 583.8 L227.8 587.3 L230.6 590.7 L233.5 594.0 L236.3 597.2 L239.1 600.3 L241.9 603.4 L244.7 606.3 L247.5 609.2 L250.4 612.0 L253.2 614.7 L256.0 617.3 L258.8 619.8 L261.6 622.2 L264.4 624.5 L267.2 626.7 L270.1 628.9 L272.9 630.9 L275.7 632.9 L278.5 634.8 L281.3 636.7 L284.1 638.4 L287.0 640.1 L289.8 641.7 L292.6 643.2 L295.4 644.7 L298.2 646.1 L301.0 647.5 L303.9 648.8 L306.7 650.0 L309.5 651.2 L312.3 652.3 L315.1 653.3 L317.9 654.4 L320.8 655.3 L323.6 656.2 L326.4 657.1 L329.2 657.9 L332.0 658.7 L334.8 659.5 L337.6 660.2 L340.5 660.9 L343.3 661.5 L346.1 662.1 L348.9 662.7 L351.7 663.2 L354.5 663.7 L357.4 664.2 L360.2 664.7 L363.0 665.1 L365.8 665.5 L368.6 665.9 L371.4 666.3 L374.3 666.7 L377.1 667.0 L379.9 667.3 L382.7 667.7 L385.5 668.0 L388.3 668.3 L391.1 668.6 L394.0 668.9 L396.8 669.1 L399.6 669.4 L402.4 669.7 L405.2 670.0 L408.0 670.3 L410.9 670.6 L413.7 670.9 L416.5 671.2 L419.3 671.5 L422.1 671.8 L424.9 672.2 L427.8 672.5 L430.6 672.8 L433.4 673.2 L436.2 673.5 L439.0 673.9 L441.8 674.3 L444.7 674.6 L447.5 675.0 L450.3 675.4 L453.1 675.8 L455.9 676.2 L458.7 676.6 L461.5 677.0 L464.4 677.4 L467.2 677.8 L470.0 678.2 L472.8 678.6 L475.6 679.0 L478.4 679.5 L481.3 679.9 L484.1 680.3 L486.9 680.8 L489.7 681.2 L492.5 681.6 L495.3 682.1 L498.2 682.5 L501.0 683.0 L503.8 683.4 L506.6 683.9 L509.4 684.3 L512.2 684.8 L515.1 685.3 L517.9 685.7 L520.7 686.2 L523.5 686.6" fill="none" stroke="#0000FF" stroke-width="5.4" stroke-linejoin="round" stroke-linecap="round"/>
</g>
<line x1="181.50" y1="751.00" x2="181.50" y2="739.00" stroke="#000" stroke-width="2.7" />
<line x1="238.35" y1="751.00" x2="238.35" y2="744.50" stroke="#000" stroke-width="2.7" />
<line x1="295.20" y1="751.00" x2="295.20" y2="739.00" stroke="#000" stroke-width="2.7" />
<line x1="352.05" y1="751.00" x2="352.05" y2="744.50" stroke="#000" stroke-width="2.7" />
<line x1="408.90" y1="751.00" x2="408.90" y2="739.00" stroke="#000" stroke-width="2.7" />
<line x1="465.75" y1="751.00" x2="465.75" y2="744.50" stroke="#000" stroke-width="2.7" />
<line x1="125.10" y1="706.41" x2="130.40" y2="706.41" stroke="#000" stroke-width="2.8" />
<line x1="125.10" y1="680.56" x2="130.40" y2="680.56" stroke="#000" stroke-width="2.8" />
<line x1="125.10" y1="662.22" x2="130.40" y2="662.22" stroke="#000" stroke-width="2.8" />
<line x1="125.10" y1="647.99" x2="130.40" y2="647.99" stroke="#000" stroke-width="2.8" />
<line x1="125.10" y1="636.37" x2="130.40" y2="636.37" stroke="#000" stroke-width="2.8" />
<line x1="125.10" y1="626.54" x2="130.40" y2="626.54" stroke="#000" stroke-width="2.8" />
<line x1="125.10" y1="618.03" x2="130.40" y2="618.03" stroke="#000" stroke-width="2.8" />
<line x1="125.10" y1="610.52" x2="130.40" y2="610.52" stroke="#000" stroke-width="2.8" />
<line x1="125.10" y1="603.80" x2="135.10" y2="603.80" stroke="#000" stroke-width="2.8" />
<line x1="125.10" y1="559.61" x2="130.40" y2="559.61" stroke="#000" stroke-width="2.8" />
<line x1="125.10" y1="533.76" x2="130.40" y2="533.76" stroke="#000" stroke-width="2.8" />
<line x1="125.10" y1="515.42" x2="130.40" y2="515.42" stroke="#000" stroke-width="2.8" />
<line x1="125.10" y1="501.19" x2="130.40" y2="501.19" stroke="#000" stroke-width="2.8" />
<line x1="125.10" y1="489.57" x2="130.40" y2="489.57" stroke="#000" stroke-width="2.8" />
<line x1="125.10" y1="479.74" x2="130.40" y2="479.74" stroke="#000" stroke-width="2.8" />
<line x1="125.10" y1="471.23" x2="130.40" y2="471.23" stroke="#000" stroke-width="2.8" />
<line x1="125.10" y1="463.72" x2="130.40" y2="463.72" stroke="#000" stroke-width="2.8" />
<line x1="123.75" y1="457.00" x2="524.05" y2="457.00" stroke="#000" stroke-width="2.9" />
<line x1="123.75" y1="751.00" x2="524.05" y2="751.00" stroke="#000" stroke-width="2.9" />
<line x1="125.10" y1="457.00" x2="125.10" y2="751.00" stroke="#000" stroke-width="2.7" />
<line x1="522.70" y1="457.00" x2="522.70" y2="751.00" stroke="#000" stroke-width="2.7" />
<text transform="translate(-1.19,464.00) scale(0.9749,1.0000)" font-size="35.90" fill="#000" font-family="Liberation Sans, sans-serif"><tspan>(d)</tspan></text>
<text transform="translate(54.30,480.80) scale(0.9826,1.0000)" font-size="35.30" fill="#000" font-family="Liberation Sans, sans-serif"><tspan>10</tspan></text>
<text transform="translate(93.26,468.50) scale(0.9989,1.0000)" font-size="23.20" fill="#000" font-family="Liberation Sans, sans-serif"><tspan>18</tspan></text>
<text transform="translate(54.28,621.80) scale(0.9911,1.0000)" font-size="35.30" fill="#000" font-family="Liberation Sans, sans-serif"><tspan>10</tspan></text>
<text transform="translate(93.25,609.50) scale(1.0065,1.0000)" font-size="23.20" fill="#000" font-family="Liberation Sans, sans-serif"><tspan>17</tspan></text>
<text transform="translate(54.28,762.90) scale(0.9911,1.0000)" font-size="35.30" fill="#000" font-family="Liberation Sans, sans-serif"><tspan>10</tspan></text>
<text transform="translate(93.26,750.60) scale(0.9989,1.0000)" font-size="23.20" fill="#000" font-family="Liberation Sans, sans-serif"><tspan>16</tspan></text>
<text transform="translate(160.10,783.70) scale(0.9880,1.0000)" font-size="35.30" fill="#000" font-family="Liberation Sans, sans-serif"><tspan>0.3</tspan></text>
<text transform="translate(265.39,786.60) scale(0.9961,1.0000)" font-size="35.30" fill="#000" font-family="Liberation Sans, sans-serif"><tspan>0.4</tspan></text>
<text transform="translate(374.78,783.70) scale(1.0056,1.0000)" font-size="35.30" fill="#000" font-family="Liberation Sans, sans-serif"><tspan>0.5</tspan></text>
<text transform="translate(485.47,783.90) scale(1.0140,1.0000)" font-size="35.30" fill="#000" font-family="Liberation Sans, sans-serif"><tspan>0.6</tspan></text>
<text transform="translate(232.04,825.20) scale(0.9291,1.0000)" font-size="36.00" fill="#000" font-family="Liberation Sans, sans-serif"><tspan>Energy</tspan></text>
<text transform="translate(347.57,825.20) scale(0.9474,1.0000)" font-size="36.00" fill="#000" font-family="Liberation Sans, sans-serif"><tspan>(eV)</tspan></text>
<text transform="translate(37.20,719.55) rotate(-90) scale(0.8578,1.0000)" font-size="36.00" fill="#000" font-family="Liberation Sans, sans-serif"><tspan>DOS</tspan></text>
<text transform="translate(37.20,644.17) rotate(-90) scale(0.9657,1.0000)" font-size="36.00" fill="#000" font-family="Liberation Sans, sans-serif"><tspan>(cm</tspan><tspan font-size="24.84" dy="-11.16">-3</tspan><tspan dy="11.16">eV</tspan><tspan font-size="24.84" dy="-11.16">-1</tspan><tspan dy="11.16">)</tspan></text>
<text transform="translate(170.01,502.00) scale(0.8491,1.0000)" font-size="36.00" fill="#5733FD" font-family="Liberation Sans, sans-serif"><tspan font-style="italic">ΔE</tspan></text>
<text transform="translate(218.24,502.00) scale(0.9694,1.0000)" font-size="36.00" fill="#5733FD" font-family="Liberation Sans, sans-serif"><tspan>=35</tspan></text>
<text transform="translate(285.61,502.00) scale(0.9838,1.0000)" font-size="36.00" fill="#5733FD" font-family="Liberation Sans, sans-serif"><tspan>meV</tspan></text>
<clipPath id="ce"><rect x="674.20" y="459.10" width="401.30" height="292.60"/></clipPath>
<g clip-path="url(#ce)">
<path d="M686.7 494.7 L689.2 497.1 L691.7 499.5 L694.3 501.9 L696.8 504.2 L699.3 506.6 L701.8 509.0 L704.3 511.3 L706.9 513.7 L709.4 516.0 L711.9 518.3 L714.4 520.7 L716.9 523.0 L719.5 525.3 L722.0 527.6 L724.5 529.9 L727.0 532.2 L729.5 534.5 L732.1 536.8 L734.6 539.0 L737.1 541.3 L739.6 543.5 L742.1 545.8 L744.7 548.0 L747.2 550.2 L749.7 552.5 L752.2 554.7 L754.7 556.9 L757.3 559.1 L759.8 561.2 L762.3 563.4 L764.8 565.6 L767.3 567.7 L769.9 569.9 L772.4 572.0 L774.9 574.1 L777.4 576.3 L779.9 578.4 L782.5 580.5 L785.0 582.5 L787.5 584.6 L790.0 586.7 L792.5 588.7 L795.1 590.8 L797.6 592.8 L800.1 594.8 L802.6 596.8 L805.1 598.8 L807.7 600.8 L810.2 602.8 L812.7 604.8 L815.2 606.7 L817.7 608.6 L820.3 610.6 L822.8 612.5 L825.3 614.4 L827.8 616.3 L830.3 618.1 L832.9 620.0 L835.4 621.9 L837.9 623.7 L840.4 625.5 L843.0 627.3 L845.5 629.1 L848.0 630.9 L850.5 632.7 L853.0 634.4 L855.6 636.2 L858.1 637.9 L860.6 639.6 L863.1 641.3 L865.6 643.0 L868.2 644.7 L870.7 646.3 L873.2 648.0 L875.7 649.6 L878.2 651.2 L880.8 652.8 L883.3 654.4 L885.8 656.0 L888.3 657.5 L890.8 659.1 L893.4 660.6 L895.9 662.1 L898.4 663.6 L900.9 665.0 L903.4 666.5 L906.0 667.9 L908.5 669.3 L911.0 670.7 L913.5 672.1 L916.0 673.5 L918.6 674.8 L921.1 676.1 L923.6 677.4 L926.1 678.7 L928.6 680.0 L931.2 681.2 L933.7 682.4 L936.2 683.6 L938.7 684.8 L941.2 686.0 L943.8 687.1 L946.3 688.2 L948.8 689.3 L951.3 690.4 L953.8 691.4 L956.4 692.5 L958.9 693.5 L961.4 694.4 L963.9 695.4 L966.4 696.3 L969.0 697.2 L971.5 698.1 L974.0 699.0 L976.5 699.8 L979.0 700.6 L981.6 701.4 L984.1 702.1 L986.6 702.9" fill="none" stroke="#000" stroke-width="5.1" stroke-opacity="0.42" stroke-linejoin="round" stroke-linecap="round"/>
<path d="M713.3 490.1 L716.1 492.4 L718.8 494.8 L721.6 497.1 L724.4 499.5 L727.2 501.8 L729.9 504.2 L732.7 506.5 L735.5 508.9 L738.3 511.3 L741.0 513.7 L743.8 516.0 L746.6 518.4 L749.4 520.8 L752.1 523.2 L754.9 525.6 L757.7 528.0 L760.5 530.3 L763.2 532.7 L766.0 535.1 L768.8 537.5 L771.6 539.8 L774.3 542.2 L777.1 544.6 L779.9 547.0 L782.6 549.3 L785.4 551.7 L788.2 554.0 L791.0 556.4 L793.7 558.7 L796.5 561.0 L799.3 563.4 L802.1 565.7 L804.8 568.0 L807.6 570.3 L810.4 572.6 L813.2 574.9 L815.9 577.2 L818.7 579.4 L821.5 581.7 L824.3 583.9 L827.0 586.2 L829.8 588.4 L832.6 590.6 L835.4 592.8 L838.1 595.0 L840.9 597.1 L843.7 599.3 L846.4 601.4 L849.2 603.5 L852.0 605.6 L854.8 607.7 L857.5 609.8 L860.3 611.9 L863.1 613.9 L865.9 615.9 L868.6 617.9 L871.4 619.9 L874.2 621.9 L877.0 623.8 L879.7 625.8 L882.5 627.7 L885.3 629.5 L888.1 631.4 L890.8 633.2 L893.6 635.1 L896.4 636.9 L899.2 638.6 L901.9 640.4 L904.7 642.1 L907.5 643.8 L910.3 645.5 L913.0 647.1 L915.8 648.7 L918.6 650.3 L921.3 651.9 L924.1 653.4 L926.9 654.9 L929.7 656.4 L932.4 657.9 L935.2 659.4 L938.0 660.8 L940.8 662.2 L943.5 663.5 L946.3 664.9 L949.1 666.2 L951.9 667.5 L954.6 668.8 L957.4 670.1 L960.2 671.3 L963.0 672.6 L965.7 673.8 L968.5 674.9 L971.3 676.1 L974.1 677.3 L976.8 678.4 L979.6 679.5 L982.4 680.6 L985.1 681.6 L987.9 682.7 L990.7 683.7 L993.5 684.7 L996.2 685.7 L999.0 686.7 L1001.8 687.7 L1004.6 688.6 L1007.3 689.6 L1010.1 690.5 L1012.9 691.4 L1015.7 692.3 L1018.4 693.1 L1021.2 694.0 L1024.0 694.8 L1026.8 695.7 L1029.5 696.5 L1032.3 697.3 L1035.1 698.1 L1037.9 698.8 L1040.6 699.6 L1043.4 700.4" fill="none" stroke="#000" stroke-width="5.1" stroke-opacity="0.7" stroke-linejoin="round" stroke-linecap="round"/>
<path d="M738.4 485.5 L741.2 488.3 L744.1 491.0 L746.9 493.8 L749.7 496.5 L752.6 499.2 L755.4 501.9 L758.3 504.6 L761.1 507.2 L763.9 509.9 L766.8 512.5 L769.6 515.1 L772.4 517.7 L775.3 520.3 L778.1 522.9 L781.0 525.4 L783.8 528.0 L786.6 530.5 L789.5 533.0 L792.3 535.5 L795.1 537.9 L798.0 540.4 L800.8 542.8 L803.7 545.3 L806.5 547.7 L809.3 550.1 L812.2 552.4 L815.0 554.8 L817.8 557.1 L820.7 559.5 L823.5 561.8 L826.3 564.1 L829.2 566.4 L832.0 568.6 L834.9 570.9 L837.7 573.1 L840.5 575.3 L843.4 577.5 L846.2 579.6 L849.0 581.8 L851.9 583.9 L854.7 586.1 L857.6 588.2 L860.4 590.3 L863.2 592.3 L866.1 594.4 L868.9 596.4 L871.7 598.4 L874.6 600.4 L877.4 602.4 L880.2 604.4 L883.1 606.3 L885.9 608.2 L888.8 610.1 L891.6 612.0 L894.4 613.9 L897.3 615.8 L900.1 617.6 L902.9 619.4 L905.8 621.2 L908.6 623.0 L911.5 624.8 L914.3 626.5 L917.1 628.2 L920.0 629.9 L922.8 631.6 L925.6 633.3 L928.5 634.9 L931.3 636.6 L934.2 638.2 L937.0 639.8 L939.8 641.3 L942.7 642.9 L945.5 644.4 L948.3 645.9 L951.2 647.4 L954.0 648.9 L956.8 650.4 L959.7 651.8 L962.5 653.2 L965.4 654.6 L968.2 656.0 L971.0 657.3 L973.9 658.7 L976.7 660.0 L979.5 661.3 L982.4 662.6 L985.2 663.8 L988.1 665.1 L990.9 666.3 L993.7 667.5 L996.6 668.7 L999.4 669.8 L1002.2 671.0 L1005.1 672.1 L1007.9 673.2 L1010.7 674.3 L1013.6 675.3 L1016.4 676.4 L1019.3 677.4 L1022.1 678.4 L1024.9 679.4 L1027.8 680.3 L1030.6 681.3 L1033.4 682.2 L1036.3 683.1 L1039.1 683.9 L1042.0 684.8 L1044.8 685.6 L1047.6 686.4 L1050.5 687.2 L1053.3 688.0 L1056.1 688.8 L1059.0 689.5 L1061.8 690.2 L1064.7 690.9 L1067.5 691.6 L1070.3 692.2 L1073.2 692.8 L1076.0 693.4" fill="none" stroke="#000" stroke-width="5.2" stroke-linejoin="round" stroke-linecap="round"/>
<line x1="684.40" y1="469.00" x2="990.20" y2="726.80" stroke="#000" stroke-width="5.3" stroke-dasharray="14 4.3"/>
</g>
<line x1="731.30" y1="751.70" x2="731.30" y2="739.70" stroke="#000" stroke-width="2.7" />
<line x1="788.80" y1="751.70" x2="788.80" y2="745.20" stroke="#000" stroke-width="2.7" />
<line x1="846.30" y1="751.70" x2="846.30" y2="739.70" stroke="#000" stroke-width="2.7" />
<line x1="903.80" y1="751.70" x2="903.80" y2="745.20" stroke="#000" stroke-width="2.7" />
<line x1="961.30" y1="751.70" x2="961.30" y2="739.70" stroke="#000" stroke-width="2.7" />
<line x1="1018.80" y1="751.70" x2="1018.80" y2="745.20" stroke="#000" stroke-width="2.7" />
<line x1="674.20" y1="738.62" x2="679.50" y2="738.62" stroke="#000" stroke-width="2.8" />
<line x1="674.20" y1="727.29" x2="679.50" y2="727.29" stroke="#000" stroke-width="2.8" />
<line x1="674.20" y1="718.03" x2="679.50" y2="718.03" stroke="#000" stroke-width="2.8" />
<line x1="674.20" y1="710.21" x2="679.50" y2="710.21" stroke="#000" stroke-width="2.8" />
<line x1="674.20" y1="703.43" x2="679.50" y2="703.43" stroke="#000" stroke-width="2.8" />
<line x1="674.20" y1="697.45" x2="679.50" y2="697.45" stroke="#000" stroke-width="2.8" />
<line x1="674.20" y1="692.10" x2="684.20" y2="692.10" stroke="#000" stroke-width="2.8" />
<line x1="674.20" y1="656.91" x2="679.50" y2="656.91" stroke="#000" stroke-width="2.8" />
<line x1="674.20" y1="636.32" x2="679.50" y2="636.32" stroke="#000" stroke-width="2.8" />
<line x1="674.20" y1="621.72" x2="679.50" y2="621.72" stroke="#000" stroke-width="2.8" />
<line x1="674.20" y1="610.39" x2="679.50" y2="610.39" stroke="#000" stroke-width="2.8" />
<line x1="674.20" y1="601.13" x2="679.50" y2="601.13" stroke="#000" stroke-width="2.8" />
<line x1="674.20" y1="593.31" x2="679.50" y2="593.31" stroke="#000" stroke-width="2.8" />
<line x1="674.20" y1="586.53" x2="679.50" y2="586.53" stroke="#000" stroke-width="2.8" />
<line x1="674.20" y1="580.55" x2="679.50" y2="580.55" stroke="#000" stroke-width="2.8" />
<line x1="674.20" y1="575.20" x2="684.20" y2="575.20" stroke="#000" stroke-width="2.8" />
<line x1="674.20" y1="540.01" x2="679.50" y2="540.01" stroke="#000" stroke-width="2.8" />
<line x1="674.20" y1="519.42" x2="679.50" y2="519.42" stroke="#000" stroke-width="2.8" />
<line x1="674.20" y1="504.82" x2="679.50" y2="504.82" stroke="#000" stroke-width="2.8" />
<line x1="674.20" y1="493.49" x2="679.50" y2="493.49" stroke="#000" stroke-width="2.8" />
<line x1="674.20" y1="484.23" x2="679.50" y2="484.23" stroke="#000" stroke-width="2.8" />
<line x1="674.20" y1="476.41" x2="679.50" y2="476.41" stroke="#000" stroke-width="2.8" />
<line x1="674.20" y1="469.63" x2="679.50" y2="469.63" stroke="#000" stroke-width="2.8" />
<line x1="674.20" y1="463.65" x2="679.50" y2="463.65" stroke="#000" stroke-width="2.8" />
<line x1="672.85" y1="459.10" x2="1076.85" y2="459.10" stroke="#000" stroke-width="2.9" />
<line x1="672.85" y1="751.70" x2="1076.85" y2="751.70" stroke="#000" stroke-width="2.9" />
<line x1="674.20" y1="459.10" x2="674.20" y2="751.70" stroke="#000" stroke-width="2.7" />
<line x1="1075.50" y1="459.10" x2="1075.50" y2="751.70" stroke="#000" stroke-width="2.7" />
<text transform="translate(546.08,464.00) scale(0.9901,1.0000)" font-size="35.90" fill="#000" font-family="Liberation Sans, sans-serif"><tspan>(e)</tspan></text>
<text transform="translate(602.41,477.60) scale(0.9798,1.0000)" font-size="35.30" fill="#000" font-family="Liberation Sans, sans-serif"><tspan>10</tspan></text>
<text transform="translate(640.98,465.50) scale(0.9902,1.0000)" font-size="23.20" fill="#000" font-family="Liberation Sans, sans-serif"><tspan>18</tspan></text>
<text transform="translate(603.58,590.00) scale(0.9883,1.0000)" font-size="35.30" fill="#000" font-family="Liberation Sans, sans-serif"><tspan>10</tspan></text>
<text transform="translate(642.15,578.10) scale(1.0065,1.0000)" font-size="23.20" fill="#000" font-family="Liberation Sans, sans-serif"><tspan>17</tspan></text>
<text transform="translate(600.28,700.30) scale(0.9911,1.0000)" font-size="35.30" fill="#000" font-family="Liberation Sans, sans-serif"><tspan>10</tspan></text>
<text transform="translate(638.53,687.80) scale(1.0162,1.0000)" font-size="23.20" fill="#000" font-family="Liberation Sans, sans-serif"><tspan>16</tspan></text>
<text transform="translate(708.70,783.70) scale(0.9880,1.0000)" font-size="35.30" fill="#000" font-family="Liberation Sans, sans-serif"><tspan>0.3</tspan></text>
<text transform="translate(815.39,786.60) scale(0.9961,1.0000)" font-size="35.30" fill="#000" font-family="Liberation Sans, sans-serif"><tspan>0.4</tspan></text>
<text transform="translate(928.09,784.10) scale(0.9991,1.0000)" font-size="35.30" fill="#000" font-family="Liberation Sans, sans-serif"><tspan>0.5</tspan></text>
<text transform="translate(1035.37,784.10) scale(1.0140,1.0000)" font-size="35.30" fill="#000" font-family="Liberation Sans, sans-serif"><tspan>0.6</tspan></text>
<text transform="translate(780.63,825.20) scale(0.9327,1.0000)" font-size="36.00" fill="#000" font-family="Liberation Sans, sans-serif"><tspan>Energy</tspan></text>
<text transform="translate(896.75,825.20) scale(0.9553,1.0000)" font-size="36.00" fill="#000" font-family="Liberation Sans, sans-serif"><tspan>(eV)</tspan></text>
<text transform="translate(585.20,716.55) rotate(-90) scale(0.8578,1.0000)" font-size="36.00" fill="#000" font-family="Liberation Sans, sans-serif"><tspan>DOS</tspan></text>
<text transform="translate(585.20,641.17) rotate(-90) scale(0.9657,1.0000)" font-size="36.00" fill="#000" font-family="Liberation Sans, sans-serif"><tspan>(cm</tspan><tspan font-size="24.84" dy="-11.16">-3</tspan><tspan dy="11.16">eV</tspan><tspan font-size="24.84" dy="-11.16">-1</tspan><tspan dy="11.16">)</tspan></text>
<text transform="translate(794.02,501.50) scale(0.8552,1.0000)" font-size="36.00" fill="#000" font-family="Liberation Sans, sans-serif"><tspan font-style="italic">ΔE</tspan></text>
<text transform="translate(842.54,501.50) scale(0.9696,1.0000)" font-size="36.00" fill="#000" font-family="Liberation Sans, sans-serif"><tspan>=50</tspan></text>
<text transform="translate(910.01,501.50) scale(0.9824,1.0000)" font-size="36.00" fill="#000" font-family="Liberation Sans, sans-serif"><tspan>meV</tspan></text>
<clipPath id="cf"><rect x="1227.10" y="458.00" width="396.40" height="293.70"/></clipPath>
<g clip-path="url(#cf)">
<path d="M1239.0 486.5 L1240.0 488.1 L1241.0 489.7 L1242.0 491.3 L1243.0 492.9 L1243.9 494.5 L1244.9 496.1 L1245.9 497.7 L1246.9 499.3 L1247.9 500.9 L1248.9 502.5 L1249.9 504.0 L1250.9 505.6 L1251.9 507.2 L1252.8 508.7 L1253.8 510.3 L1254.8 511.8 L1255.8 513.4 L1256.8 514.9 L1257.8 516.4 L1258.8 518.0 L1259.8 519.5 L1260.8 521.0 L1261.7 522.6 L1262.7 524.1 L1263.7 525.6 L1264.7 527.1 L1265.7 528.6 L1266.7 530.1 L1267.7 531.6 L1268.7 533.1 L1269.7 534.6 L1270.6 536.1 L1271.6 537.6 L1272.6 539.0 L1273.6 540.5 L1274.6 542.0 L1275.6 543.5 L1276.6 544.9 L1277.6 546.4 L1278.6 547.8 L1279.5 549.3 L1280.5 550.7 L1281.5 552.2 L1282.5 553.6 L1283.5 555.1 L1284.5 556.5 L1285.5 557.9 L1286.5 559.3 L1287.5 560.8 L1288.4 562.2 L1289.4 563.6 L1290.4 565.0 L1291.4 566.4 L1292.4 567.8 L1293.4 569.2 L1294.4 570.6 L1295.4 572.0 L1296.4 573.4 L1297.3 574.7 L1298.3 576.1 L1299.3 577.5 L1300.3 578.9 L1301.3 580.2 L1302.3 581.6 L1303.3 583.0 L1304.3 584.3 L1305.3 585.7 L1306.2 587.0 L1307.2 588.3 L1308.2 589.7 L1309.2 591.0 L1310.2 592.4 L1311.2 593.7 L1312.2 595.0 L1313.2 596.3 L1314.2 597.6 L1315.2 599.0 L1316.1 600.3 L1317.1 601.6 L1318.1 602.9 L1319.1 604.2 L1320.1 605.5 L1321.1 606.8 L1322.1 608.0 L1323.1 609.3 L1324.1 610.6 L1325.0 611.8 L1326.0 613.1 L1327.0 614.3 L1328.0 615.5 L1329.0 616.7 L1330.0 617.9 L1331.0 619.1 L1332.0 620.2 L1333.0 621.4 L1333.9 622.5 L1334.9 623.6 L1335.9 624.6 L1336.9 625.7 L1337.9 626.7 L1338.9 627.7 L1339.9 628.6 L1340.9 629.5 L1341.9 630.4 L1342.8 631.3 L1343.8 632.1 L1344.8 632.9 L1345.8 633.7 L1346.8 634.4 L1347.8 635.1 L1348.8 635.7 L1349.8 636.2 L1350.8 636.6 L1351.7 637.0 L1352.7 637.2 L1353.7 637.3 L1354.7 637.4 L1355.7 637.3 L1356.7 637.0 L1357.7 636.7 L1358.7 636.3 L1359.7 635.8 L1360.6 635.1 L1361.6 634.4 L1362.6 633.6 L1363.6 632.7 L1364.6 631.8 L1365.6 630.7 L1366.6 629.6 L1367.6 628.4 L1368.6 627.1 L1369.5 625.8 L1370.5 624.4 L1371.5 622.9 L1372.5 621.4 L1373.5 619.9 L1374.5 618.3 L1375.5 616.6 L1376.5 615.0 L1377.5 613.2 L1378.4 611.5 L1379.4 609.7 L1380.4 607.9 L1381.4 606.1 L1382.4 604.3 L1383.4 602.4 L1384.4 600.5 L1385.4 598.6 L1386.4 596.7 L1387.3 594.8 L1388.3 592.9 L1389.3 591.0 L1390.3 589.0 L1391.3 587.1 L1392.3 585.2 L1393.3 583.2 L1394.3 581.3 L1395.3 579.4 L1396.2 577.5 L1397.2 575.6 L1398.2 573.7 L1399.2 571.8 L1400.2 569.9 L1401.2 568.1 L1402.2 566.3 L1403.2 564.5 L1404.2 562.7 L1405.1 560.9 L1406.1 559.2 L1407.1 557.5 L1408.1 555.8 L1409.1 554.1 L1410.1 552.5 L1411.1 550.9 L1412.1 549.3 L1413.1 547.7 L1414.0 546.2 L1415.0 544.7 L1416.0 543.3 L1417.0 541.8 L1418.0 540.4 L1419.0 539.0 L1420.0 537.7 L1421.0 536.4 L1422.0 535.1 L1422.9 533.9 L1423.9 532.7 L1424.9 531.5 L1425.9 530.4 L1426.9 529.3 L1427.9 528.2 L1428.9 527.2 L1429.9 526.2 L1430.9 525.3 L1431.8 524.4 L1432.8 523.5 L1433.8 522.7 L1434.8 521.9 L1435.8 521.1 L1436.8 520.4 L1437.8 519.7 L1438.8 519.1 L1439.8 518.4 L1440.7 517.9 L1441.7 517.3 L1442.7 516.8 L1443.7 516.4 L1444.7 515.9 L1445.7 515.5 L1446.7 515.2 L1447.7 514.8 L1448.7 514.5 L1449.6 514.3 L1450.6 514.0 L1451.6 513.9 L1452.6 513.7 L1453.6 513.6 L1454.6 513.5 L1455.6 513.4 L1456.6 513.4 L1457.6 513.4 L1458.5 513.4 L1459.5 513.5 L1460.5 513.6 L1461.5 513.7 L1462.5 513.8 L1463.5 514.0 L1464.5 514.3 L1465.5 514.5 L1466.5 514.8 L1467.5 515.1 L1468.4 515.4 L1469.4 515.8 L1470.4 516.2 L1471.4 516.6 L1472.4 517.0 L1473.4 517.5 L1474.4 518.0 L1475.4 518.6 L1476.4 519.1 L1477.3 519.7 L1478.3 520.3 L1479.3 521.0 L1480.3 521.7 L1481.3 522.4 L1482.3 523.1 L1483.3 523.9 L1484.3 524.6 L1485.3 525.5 L1486.2 526.3 L1487.2 527.2 L1488.2 528.1 L1489.2 529.1 L1490.2 530.0 L1491.2 531.0 L1492.2 532.1 L1493.2 533.1 L1494.2 534.2 L1495.1 535.4 L1496.1 536.5 L1497.1 537.7 L1498.1 538.9 L1499.1 540.2 L1500.1 541.5 L1501.1 542.8 L1502.1 544.2 L1503.1 545.6 L1504.0 547.0 L1505.0 548.4 L1506.0 549.9 L1507.0 551.4 L1508.0 553.0 L1509.0 554.6 L1510.0 556.2 L1511.0 557.8 L1512.0 559.5 L1512.9 561.3 L1513.9 563.0 L1514.9 564.8 L1515.9 566.6 L1516.9 568.5 L1517.9 570.4 L1518.9 572.3 L1519.9 574.4 L1520.9 576.5 L1521.8 578.6 L1522.8 580.9 L1523.8 583.3 L1524.8 585.8 L1525.8 588.5 L1526.8 591.3 L1527.8 594.3 L1528.8 597.4 L1529.8 600.7 L1530.7 603.9 L1531.7 606.8 L1532.7 609.3 L1533.7 611.2 L1534.7 612.3" fill="none" stroke="#008000" stroke-width="5.1" stroke-opacity="0.45" stroke-linejoin="round" stroke-linecap="round"/>
<path d="M1273.2 495.6 L1274.3 496.8 L1275.3 498.1 L1276.4 499.4 L1277.5 500.7 L1278.5 502.0 L1279.6 503.3 L1280.6 504.7 L1281.7 506.1 L1282.8 507.5 L1283.8 508.9 L1284.9 510.3 L1286.0 511.8 L1287.0 513.3 L1288.1 514.8 L1289.2 516.3 L1290.2 517.8 L1291.3 519.3 L1292.3 520.8 L1293.4 522.4 L1294.5 523.9 L1295.5 525.5 L1296.6 527.1 L1297.7 528.7 L1298.7 530.3 L1299.8 531.8 L1300.9 533.4 L1301.9 535.0 L1303.0 536.6 L1304.1 538.2 L1305.1 539.8 L1306.2 541.4 L1307.2 543.0 L1308.3 544.6 L1309.4 546.2 L1310.4 547.8 L1311.5 549.4 L1312.6 550.9 L1313.6 552.5 L1314.7 554.1 L1315.8 555.6 L1316.8 557.1 L1317.9 558.7 L1318.9 560.2 L1320.0 561.7 L1321.1 563.2 L1322.1 564.6 L1323.2 566.1 L1324.3 567.5 L1325.3 568.9 L1326.4 570.3 L1327.5 571.7 L1328.5 573.1 L1329.6 574.4 L1330.6 575.7 L1331.7 577.0 L1332.8 578.3 L1333.8 579.5 L1334.9 580.7 L1336.0 581.9 L1337.0 583.1 L1338.1 584.2 L1339.2 585.3 L1340.2 586.3 L1341.3 587.4 L1342.4 588.4 L1343.4 589.4 L1344.5 590.3 L1345.5 591.2 L1346.6 592.1 L1347.7 592.9 L1348.7 593.7 L1349.8 594.5 L1350.9 595.2 L1351.9 595.9 L1353.0 596.5 L1354.1 597.2 L1355.1 597.7 L1356.2 598.2 L1357.2 598.7 L1358.3 599.2 L1359.4 599.6 L1360.4 599.9 L1361.5 600.3 L1362.6 600.5 L1363.6 600.7 L1364.7 600.9 L1365.8 601.0 L1366.8 601.1 L1367.9 601.2 L1368.9 601.1 L1370.0 601.1 L1371.1 601.0 L1372.1 600.8 L1373.2 600.6 L1374.3 600.3 L1375.3 600.0 L1376.4 599.7 L1377.5 599.3 L1378.5 598.9 L1379.6 598.5 L1380.7 598.0 L1381.7 597.5 L1382.8 596.9 L1383.8 596.3 L1384.9 595.7 L1386.0 595.1 L1387.0 594.5 L1388.1 593.8 L1389.2 593.1 L1390.2 592.4 L1391.3 591.6 L1392.4 590.9 L1393.4 590.1 L1394.5 589.3 L1395.5 588.5 L1396.6 587.7 L1397.7 586.9 L1398.7 586.1 L1399.8 585.2 L1400.9 584.4 L1401.9 583.6 L1403.0 582.7 L1404.1 581.9 L1405.1 581.1 L1406.2 580.2 L1407.2 579.4 L1408.3 578.6 L1409.4 577.8 L1410.4 577.0 L1411.5 576.2 L1412.6 575.4 L1413.6 574.6 L1414.7 573.9 L1415.8 573.1 L1416.8 572.4 L1417.9 571.7 L1419.0 571.0 L1420.0 570.3 L1421.1 569.6 L1422.1 569.0 L1423.2 568.3 L1424.3 567.7 L1425.3 567.0 L1426.4 566.4 L1427.5 565.8 L1428.5 565.3 L1429.6 564.7 L1430.7 564.1 L1431.7 563.6 L1432.8 563.1 L1433.8 562.6 L1434.9 562.1 L1436.0 561.7 L1437.0 561.2 L1438.1 560.8 L1439.2 560.4 L1440.2 560.0 L1441.3 559.6 L1442.4 559.2 L1443.4 558.9 L1444.5 558.6 L1445.5 558.3 L1446.6 558.0 L1447.7 557.7 L1448.7 557.5 L1449.8 557.2 L1450.9 557.0 L1451.9 556.8 L1453.0 556.6 L1454.1 556.5 L1455.1 556.3 L1456.2 556.2 L1457.3 556.1 L1458.3 556.0 L1459.4 556.0 L1460.4 555.9 L1461.5 555.9 L1462.6 555.9 L1463.6 555.9 L1464.7 555.9 L1465.8 555.9 L1466.8 556.0 L1467.9 556.1 L1469.0 556.2 L1470.0 556.3 L1471.1 556.4 L1472.1 556.6 L1473.2 556.8 L1474.3 557.0 L1475.3 557.2 L1476.4 557.4 L1477.5 557.6 L1478.5 557.9 L1479.6 558.2 L1480.7 558.5 L1481.7 558.8 L1482.8 559.1 L1483.8 559.5 L1484.9 559.9 L1486.0 560.2 L1487.0 560.7 L1488.1 561.1 L1489.2 561.5 L1490.2 562.0 L1491.3 562.5 L1492.4 563.0 L1493.4 563.5 L1494.5 564.0 L1495.6 564.6 L1496.6 565.2 L1497.7 565.8 L1498.7 566.4 L1499.8 567.0 L1500.9 567.7 L1501.9 568.3 L1503.0 569.0 L1504.1 569.7 L1505.1 570.5 L1506.2 571.2 L1507.3 572.0 L1508.3 572.7 L1509.4 573.5 L1510.4 574.4 L1511.5 575.2 L1512.6 576.1 L1513.6 576.9 L1514.7 577.8 L1515.8 578.7 L1516.8 579.7 L1517.9 580.6 L1519.0 581.6 L1520.0 582.6 L1521.1 583.6 L1522.1 584.6 L1523.2 585.6 L1524.3 586.7 L1525.3 587.8 L1526.4 588.9 L1527.5 590.0 L1528.5 591.2 L1529.6 592.3 L1530.7 593.5 L1531.7 594.7 L1532.8 596.0 L1533.9 597.2 L1534.9 598.5 L1536.0 599.8 L1537.0 601.1 L1538.1 602.4 L1539.2 603.8 L1540.2 605.2 L1541.3 606.6 L1542.4 608.0 L1543.4 609.4 L1544.5 610.9 L1545.6 612.3 L1546.6 613.8 L1547.7 615.3 L1548.7 616.9 L1549.8 618.4 L1550.9 620.0 L1551.9 621.6 L1553.0 623.2 L1554.1 624.8 L1555.1 626.5 L1556.2 628.1 L1557.3 629.8 L1558.3 631.5 L1559.4 633.2 L1560.4 634.9 L1561.5 636.7 L1562.6 638.5 L1563.6 640.3 L1564.7 642.1 L1565.8 643.9 L1566.8 645.8 L1567.9 647.7 L1569.0 649.6 L1570.0 651.5 L1571.1 653.5 L1572.2 655.4 L1573.2 657.5 L1574.3 659.5 L1575.3 661.6 L1576.4 663.7 L1577.5 665.8 L1578.5 668.0 L1579.6 670.2 L1580.7 672.4 L1581.7 674.7 L1582.8 677.0 L1583.9 679.4 L1584.9 681.7 L1586.0 684.2 L1587.0 686.6 L1588.1 689.1 L1589.2 691.6 L1590.2 694.2 L1591.3 696.8" fill="none" stroke="#008000" stroke-width="5.1" stroke-opacity="0.68" stroke-linejoin="round" stroke-linecap="round"/>
<line x1="1254.20" y1="469.00" x2="1422.60" y2="726.90" stroke="#548235" stroke-width="5.2" stroke-dasharray="13.5 4.6"/>
<path d="M1289.9 486.0 L1291.0 487.7 L1292.1 489.4 L1293.3 491.2 L1294.4 492.9 L1295.5 494.6 L1296.6 496.3 L1297.7 498.0 L1298.9 499.6 L1300.0 501.3 L1301.1 503.0 L1302.2 504.7 L1303.3 506.3 L1304.4 507.9 L1305.6 509.6 L1306.7 511.2 L1307.8 512.8 L1308.9 514.4 L1310.0 516.0 L1311.2 517.6 L1312.3 519.1 L1313.4 520.7 L1314.5 522.2 L1315.6 523.7 L1316.8 525.2 L1317.9 526.7 L1319.0 528.2 L1320.1 529.6 L1321.2 531.0 L1322.4 532.5 L1323.5 533.9 L1324.6 535.2 L1325.7 536.6 L1326.8 537.9 L1327.9 539.2 L1329.1 540.5 L1330.2 541.8 L1331.3 543.1 L1332.4 544.3 L1333.5 545.5 L1334.7 546.7 L1335.8 547.9 L1336.9 549.0 L1338.0 550.1 L1339.1 551.2 L1340.3 552.3 L1341.4 553.3 L1342.5 554.3 L1343.6 555.3 L1344.7 556.3 L1345.9 557.2 L1347.0 558.1 L1348.1 559.0 L1349.2 559.9 L1350.3 560.7 L1351.4 561.5 L1352.6 562.3 L1353.7 563.0 L1354.8 563.7 L1355.9 564.4 L1357.0 565.1 L1358.2 565.8 L1359.3 566.4 L1360.4 567.0 L1361.5 567.6 L1362.6 568.2 L1363.8 568.7 L1364.9 569.2 L1366.0 569.7 L1367.1 570.2 L1368.2 570.6 L1369.4 571.0 L1370.5 571.4 L1371.6 571.8 L1372.7 572.2 L1373.8 572.5 L1374.9 572.8 L1376.1 573.1 L1377.2 573.4 L1378.3 573.6 L1379.4 573.9 L1380.5 574.1 L1381.7 574.3 L1382.8 574.4 L1383.9 574.6 L1385.0 574.7 L1386.1 574.8 L1387.3 574.9 L1388.4 575.0 L1389.5 575.0 L1390.6 575.1 L1391.7 575.1 L1392.9 575.1 L1394.0 575.1 L1395.1 575.0 L1396.2 575.0 L1397.3 574.9 L1398.4 574.9 L1399.6 574.8 L1400.7 574.7 L1401.8 574.6 L1402.9 574.5 L1404.0 574.3 L1405.2 574.2 L1406.3 574.0 L1407.4 573.9 L1408.5 573.7 L1409.6 573.6 L1410.8 573.4 L1411.9 573.2 L1413.0 573.0 L1414.1 572.8 L1415.2 572.6 L1416.4 572.4 L1417.5 572.2 L1418.6 572.0 L1419.7 571.9 L1420.8 571.7 L1421.9 571.5 L1423.1 571.3 L1424.2 571.1 L1425.3 570.9 L1426.4 570.7 L1427.5 570.5 L1428.7 570.3 L1429.8 570.2 L1430.9 570.0 L1432.0 569.8 L1433.1 569.7 L1434.3 569.5 L1435.4 569.4 L1436.5 569.3 L1437.6 569.1 L1438.7 569.0 L1439.9 568.9 L1441.0 568.8 L1442.1 568.7 L1443.2 568.7 L1444.3 568.6 L1445.4 568.5 L1446.6 568.5 L1447.7 568.4 L1448.8 568.4 L1449.9 568.4 L1451.0 568.4 L1452.2 568.3 L1453.3 568.3 L1454.4 568.4 L1455.5 568.4 L1456.6 568.4 L1457.8 568.4 L1458.9 568.5 L1460.0 568.5 L1461.1 568.6 L1462.2 568.7 L1463.4 568.8 L1464.5 568.9 L1465.6 569.0 L1466.7 569.1 L1467.8 569.2 L1469.0 569.3 L1470.1 569.5 L1471.2 569.6 L1472.3 569.8 L1473.4 570.0 L1474.5 570.2 L1475.7 570.4 L1476.8 570.6 L1477.9 570.8 L1479.0 571.0 L1480.1 571.2 L1481.3 571.5 L1482.4 571.7 L1483.5 572.0 L1484.6 572.3 L1485.7 572.6 L1486.9 572.9 L1488.0 573.2 L1489.1 573.5 L1490.2 573.8 L1491.3 574.2 L1492.5 574.5 L1493.6 574.9 L1494.7 575.2 L1495.8 575.6 L1496.9 576.0 L1498.0 576.4 L1499.2 576.8 L1500.3 577.2 L1501.4 577.6 L1502.5 578.1 L1503.6 578.5 L1504.8 579.0 L1505.9 579.5 L1507.0 579.9 L1508.1 580.4 L1509.2 580.9 L1510.4 581.4 L1511.5 582.0 L1512.6 582.5 L1513.7 583.0 L1514.8 583.6 L1516.0 584.2 L1517.1 584.7 L1518.2 585.3 L1519.3 585.9 L1520.4 586.5 L1521.5 587.1 L1522.7 587.8 L1523.8 588.4 L1524.9 589.0 L1526.0 589.7 L1527.1 590.4 L1528.3 591.0 L1529.4 591.7 L1530.5 592.4 L1531.6 593.1 L1532.7 593.8 L1533.9 594.6 L1535.0 595.3 L1536.1 596.1 L1537.2 596.8 L1538.3 597.6 L1539.5 598.4 L1540.6 599.2 L1541.7 600.0 L1542.8 600.8 L1543.9 601.6 L1545.0 602.4 L1546.2 603.3 L1547.3 604.1 L1548.4 605.0 L1549.5 605.9 L1550.6 606.8 L1551.8 607.7 L1552.9 608.6 L1554.0 609.5 L1555.1 610.4 L1556.2 611.4 L1557.4 612.3 L1558.5 613.3 L1559.6 614.3 L1560.7 615.2 L1561.8 616.2 L1563.0 617.2 L1564.1 618.3 L1565.2 619.3 L1566.3 620.3 L1567.4 621.4 L1568.5 622.4 L1569.7 623.5 L1570.8 624.6 L1571.9 625.7 L1573.0 626.8 L1574.1 627.9 L1575.3 629.0 L1576.4 630.1 L1577.5 631.3 L1578.6 632.4 L1579.7 633.6 L1580.9 634.8 L1582.0 636.0 L1583.1 637.2 L1584.2 638.4 L1585.3 639.6 L1586.5 640.8 L1587.6 642.1 L1588.7 643.3 L1589.8 644.6 L1590.9 645.9 L1592.0 647.1 L1593.2 648.4 L1594.3 649.8 L1595.4 651.1 L1596.5 652.4 L1597.6 653.7 L1598.8 655.1 L1599.9 656.5 L1601.0 657.8 L1602.1 659.2 L1603.2 660.6 L1604.4 662.0 L1605.5 663.4 L1606.6 664.9 L1607.7 666.3 L1608.8 667.7 L1610.0 669.2 L1611.1 670.7 L1612.2 672.2 L1613.3 673.7 L1614.4 675.2 L1615.5 676.7 L1616.7 678.2 L1617.8 679.8 L1618.9 681.3 L1620.0 682.9 L1621.1 684.4 L1622.3 686.0 L1623.4 687.6 L1624.5 689.2" fill="none" stroke="#008000" stroke-width="5.2" stroke-linejoin="round" stroke-linecap="round"/>
</g>
<line x1="1283.70" y1="751.70" x2="1283.70" y2="739.70" stroke="#000" stroke-width="2.7" />
<line x1="1340.40" y1="751.70" x2="1340.40" y2="745.20" stroke="#000" stroke-width="2.7" />
<line x1="1397.10" y1="751.70" x2="1397.10" y2="739.70" stroke="#000" stroke-width="2.7" />
<line x1="1453.80" y1="751.70" x2="1453.80" y2="745.20" stroke="#000" stroke-width="2.7" />
<line x1="1510.50" y1="751.70" x2="1510.50" y2="739.70" stroke="#000" stroke-width="2.7" />
<line x1="1567.20" y1="751.70" x2="1567.20" y2="745.20" stroke="#000" stroke-width="2.7" />
<line x1="1227.10" y1="732.85" x2="1232.40" y2="732.85" stroke="#000" stroke-width="2.8" />
<line x1="1227.10" y1="719.22" x2="1232.40" y2="719.22" stroke="#000" stroke-width="2.8" />
<line x1="1227.10" y1="708.64" x2="1232.40" y2="708.64" stroke="#000" stroke-width="2.8" />
<line x1="1227.10" y1="700.00" x2="1232.40" y2="700.00" stroke="#000" stroke-width="2.8" />
<line x1="1227.10" y1="692.70" x2="1232.40" y2="692.70" stroke="#000" stroke-width="2.8" />
<line x1="1227.10" y1="686.37" x2="1232.40" y2="686.37" stroke="#000" stroke-width="2.8" />
<line x1="1227.10" y1="680.79" x2="1232.40" y2="680.79" stroke="#000" stroke-width="2.8" />
<line x1="1227.10" y1="675.80" x2="1237.10" y2="675.80" stroke="#000" stroke-width="2.8" />
<line x1="1227.10" y1="642.96" x2="1232.40" y2="642.96" stroke="#000" stroke-width="2.8" />
<line x1="1227.10" y1="623.75" x2="1232.40" y2="623.75" stroke="#000" stroke-width="2.8" />
<line x1="1227.10" y1="610.12" x2="1232.40" y2="610.12" stroke="#000" stroke-width="2.8" />
<line x1="1227.10" y1="599.54" x2="1232.40" y2="599.54" stroke="#000" stroke-width="2.8" />
<line x1="1227.10" y1="590.90" x2="1232.40" y2="590.90" stroke="#000" stroke-width="2.8" />
<line x1="1227.10" y1="583.60" x2="1232.40" y2="583.60" stroke="#000" stroke-width="2.8" />
<line x1="1227.10" y1="577.27" x2="1232.40" y2="577.27" stroke="#000" stroke-width="2.8" />
<line x1="1227.10" y1="571.69" x2="1232.40" y2="571.69" stroke="#000" stroke-width="2.8" />
<line x1="1227.10" y1="566.70" x2="1237.10" y2="566.70" stroke="#000" stroke-width="2.8" />
<line x1="1227.10" y1="533.86" x2="1232.40" y2="533.86" stroke="#000" stroke-width="2.8" />
<line x1="1227.10" y1="514.65" x2="1232.40" y2="514.65" stroke="#000" stroke-width="2.8" />
<line x1="1227.10" y1="501.02" x2="1232.40" y2="501.02" stroke="#000" stroke-width="2.8" />
<line x1="1227.10" y1="490.44" x2="1232.40" y2="490.44" stroke="#000" stroke-width="2.8" />
<line x1="1227.10" y1="481.80" x2="1232.40" y2="481.80" stroke="#000" stroke-width="2.8" />
<line x1="1227.10" y1="474.50" x2="1232.40" y2="474.50" stroke="#000" stroke-width="2.8" />
<line x1="1227.10" y1="468.17" x2="1232.40" y2="468.17" stroke="#000" stroke-width="2.8" />
<line x1="1227.10" y1="462.59" x2="1232.40" y2="462.59" stroke="#000" stroke-width="2.8" />
<line x1="1225.75" y1="458.00" x2="1624.85" y2="458.00" stroke="#000" stroke-width="2.9" />
<line x1="1225.75" y1="751.70" x2="1624.85" y2="751.70" stroke="#000" stroke-width="2.9" />
<line x1="1227.10" y1="458.00" x2="1227.10" y2="751.70" stroke="#000" stroke-width="2.7" />
<line x1="1623.50" y1="458.00" x2="1623.50" y2="751.70" stroke="#000" stroke-width="2.7" />
<text transform="translate(1106.20,464.00) scale(1.1142,1.0000)" font-size="35.90" fill="#000" font-family="Liberation Sans, sans-serif"><tspan>(f)</tspan></text>
<text transform="translate(1156.28,477.60) scale(0.9911,1.0000)" font-size="35.30" fill="#000" font-family="Liberation Sans, sans-serif"><tspan>10</tspan></text>
<text transform="translate(1195.75,465.70) scale(1.0065,1.0000)" font-size="23.20" fill="#000" font-family="Liberation Sans, sans-serif"><tspan>17</tspan></text>
<text transform="translate(1157.45,590.00) scale(0.9997,1.0000)" font-size="35.30" fill="#000" font-family="Liberation Sans, sans-serif"><tspan>10</tspan></text>
<text transform="translate(1196.03,578.10) scale(1.0162,1.0000)" font-size="23.20" fill="#000" font-family="Liberation Sans, sans-serif"><tspan>16</tspan></text>
<text transform="translate(1154.15,700.30) scale(1.0025,1.0000)" font-size="35.30" fill="#000" font-family="Liberation Sans, sans-serif"><tspan>10</tspan></text>
<text transform="translate(1193.27,687.80) scale(0.9964,1.0000)" font-size="23.20" fill="#000" font-family="Liberation Sans, sans-serif"><tspan>15</tspan></text>
<text transform="translate(1263.20,783.70) scale(0.9880,1.0000)" font-size="35.30" fill="#000" font-family="Liberation Sans, sans-serif"><tspan>0.3</tspan></text>
<text transform="translate(1369.89,786.60) scale(0.9961,1.0000)" font-size="35.30" fill="#000" font-family="Liberation Sans, sans-serif"><tspan>0.4</tspan></text>
<text transform="translate(1482.60,784.10) scale(0.9947,1.0000)" font-size="35.30" fill="#000" font-family="Liberation Sans, sans-serif"><tspan>0.5</tspan></text>
<text transform="translate(1589.47,784.10) scale(1.0140,1.0000)" font-size="35.30" fill="#000" font-family="Liberation Sans, sans-serif"><tspan>0.6</tspan></text>
<text transform="translate(1334.82,825.20) scale(0.9354,1.0000)" font-size="36.00" fill="#000" font-family="Liberation Sans, sans-serif"><tspan>Energy</tspan></text>
<text transform="translate(1451.25,825.20) scale(0.9553,1.0000)" font-size="36.00" fill="#000" font-family="Liberation Sans, sans-serif"><tspan>(eV)</tspan></text>
<text transform="translate(1139.40,716.55) rotate(-90) scale(0.8578,1.0000)" font-size="36.00" fill="#000" font-family="Liberation Sans, sans-serif"><tspan>DOS</tspan></text>
<text transform="translate(1139.40,641.17) rotate(-90) scale(0.9657,1.0000)" font-size="36.00" fill="#000" font-family="Liberation Sans, sans-serif"><tspan>(cm</tspan><tspan font-size="24.84" dy="-11.16">-3</tspan><tspan dy="11.16">eV</tspan><tspan font-size="24.84" dy="-11.16">-1</tspan><tspan dy="11.16">)</tspan></text>
<text transform="translate(1323.32,501.50) scale(0.8552,1.0000)" font-size="36.00" fill="#4F7F2B" font-family="Liberation Sans, sans-serif"><tspan font-style="italic">ΔE</tspan></text>
<text transform="translate(1372.27,501.50) scale(0.9551,1.0000)" font-size="36.00" fill="#4F7F2B" font-family="Liberation Sans, sans-serif"><tspan>=29</tspan></text>
<text transform="translate(1439.31,501.50) scale(0.9838,1.0000)" font-size="36.00" fill="#4F7F2B" font-family="Liberation Sans, sans-serif"><tspan>meV</tspan></text>
</svg></body></html>
